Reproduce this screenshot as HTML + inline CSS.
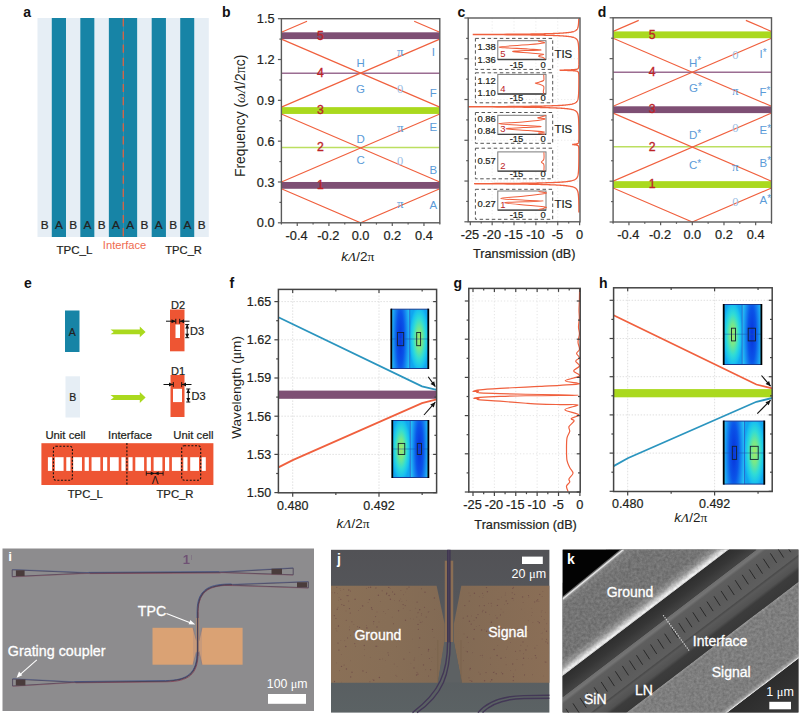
<!DOCTYPE html><html><head><meta charset="utf-8"><style>html,body{margin:0;padding:0;background:#fff;width:800px;height:715px;overflow:hidden}svg{display:block}</style></head><body>
<svg width="800" height="715" viewBox="0 0 800 715" style="font-family:'Liberation Sans',sans-serif" font-family="Liberation Sans">
<defs>
<radialGradient id="gHigh" cx="0.5" cy="0.5" r="0.5" gradientTransform="translate(0.5,0.5) scale(1.05,1.15) translate(-0.5,-0.5)"><stop offset="0" stop-color="#a4e864"/><stop offset="0.3" stop-color="#74e88c"/><stop offset="0.6" stop-color="#30dcd6"/><stop offset="0.85" stop-color="#18c0f0"/><stop offset="1" stop-color="#10a6f0"/></radialGradient>
<radialGradient id="gLow" cx="0.5" cy="0.5" r="0.5" gradientTransform="translate(0.5,0.5) scale(1.0,2.2) translate(-0.5,-0.5)"><stop offset="0" stop-color="#0834dc"/><stop offset="0.4" stop-color="#0a54e8"/><stop offset="0.75" stop-color="#1896f2"/><stop offset="1" stop-color="#26c2f2"/></radialGradient>
<filter id="speck" x="0" y="0" width="1" height="1"><feTurbulence type="fractalNoise" baseFrequency="0.9" numOctaves="1" seed="3" result="n"/><feColorMatrix in="n" type="matrix" values="0 0 0 0 0.3  0 0 0 0 0.2  0 0 0 0 0.15  0 0 0 -3 1.6" result="m"/><feComposite in="m" in2="SourceGraphic" operator="in" result="c"/><feMerge><feMergeNode in="SourceGraphic"/><feMergeNode in="c"/></feMerge></filter>
<filter id="semnoise" x="0" y="0" width="1" height="1" color-interpolation-filters="sRGB"><feTurbulence type="fractalNoise" baseFrequency="0.35" numOctaves="3" seed="5" result="n"/><feColorMatrix in="n" type="matrix" values="1 0 0 0 0  1 0 0 0 0  1 0 0 0 0  0 0 0 0 1" result="g"/><feComposite in="SourceGraphic" in2="g" operator="arithmetic" k1="0" k2="1" k3="0.16" k4="-0.08" result="c"/><feComposite in="c" in2="SourceGraphic" operator="in"/></filter>
</defs>
<rect x="0.00" y="0.00" width="800.00" height="715.00" fill="#fff" />
<text x="23.30" y="16.80" font-size="14" fill="#111" text-anchor="start" font-weight="bold" font-style="normal" >a</text>
<rect x="37.50" y="18.00" width="14.32" height="219.00" fill="#e6eef5" />
<rect x="51.77" y="18.00" width="14.32" height="219.00" fill="#1784a6" />
<rect x="66.04" y="18.00" width="14.32" height="219.00" fill="#e6eef5" />
<rect x="80.31" y="18.00" width="14.32" height="219.00" fill="#1784a6" />
<rect x="94.58" y="18.00" width="14.32" height="219.00" fill="#e6eef5" />
<rect x="108.85" y="18.00" width="14.32" height="219.00" fill="#1784a6" />
<rect x="123.12" y="18.00" width="14.32" height="219.00" fill="#1784a6" />
<rect x="137.40" y="18.00" width="14.32" height="219.00" fill="#e6eef5" />
<rect x="151.67" y="18.00" width="14.32" height="219.00" fill="#1784a6" />
<rect x="165.94" y="18.00" width="14.32" height="219.00" fill="#e6eef5" />
<rect x="180.21" y="18.00" width="14.32" height="219.00" fill="#1784a6" />
<rect x="194.48" y="18.00" width="14.32" height="219.00" fill="#e6eef5" />
<text x="44.64" y="228.90" font-size="11.8" fill="#231f20" text-anchor="middle" font-weight="normal" font-style="normal"  stroke="#231f20" stroke-width="0.22">B</text>
<text x="58.91" y="228.90" font-size="11.8" fill="#231f20" text-anchor="middle" font-weight="normal" font-style="normal"  stroke="#231f20" stroke-width="0.22">A</text>
<text x="73.18" y="228.90" font-size="11.8" fill="#231f20" text-anchor="middle" font-weight="normal" font-style="normal"  stroke="#231f20" stroke-width="0.22">B</text>
<text x="87.45" y="228.90" font-size="11.8" fill="#231f20" text-anchor="middle" font-weight="normal" font-style="normal"  stroke="#231f20" stroke-width="0.22">A</text>
<text x="101.72" y="228.90" font-size="11.8" fill="#231f20" text-anchor="middle" font-weight="normal" font-style="normal"  stroke="#231f20" stroke-width="0.22">B</text>
<text x="115.99" y="228.90" font-size="11.8" fill="#231f20" text-anchor="middle" font-weight="normal" font-style="normal"  stroke="#231f20" stroke-width="0.22">A</text>
<text x="130.26" y="228.90" font-size="11.8" fill="#231f20" text-anchor="middle" font-weight="normal" font-style="normal"  stroke="#231f20" stroke-width="0.22">A</text>
<text x="144.53" y="228.90" font-size="11.8" fill="#231f20" text-anchor="middle" font-weight="normal" font-style="normal"  stroke="#231f20" stroke-width="0.22">B</text>
<text x="158.80" y="228.90" font-size="11.8" fill="#231f20" text-anchor="middle" font-weight="normal" font-style="normal"  stroke="#231f20" stroke-width="0.22">A</text>
<text x="173.07" y="228.90" font-size="11.8" fill="#231f20" text-anchor="middle" font-weight="normal" font-style="normal"  stroke="#231f20" stroke-width="0.22">B</text>
<text x="187.34" y="228.90" font-size="11.8" fill="#231f20" text-anchor="middle" font-weight="normal" font-style="normal"  stroke="#231f20" stroke-width="0.22">A</text>
<text x="201.61" y="228.90" font-size="11.8" fill="#231f20" text-anchor="middle" font-weight="normal" font-style="normal"  stroke="#231f20" stroke-width="0.22">B</text>
<line x1="123.30" y1="18.40" x2="123.30" y2="237.00" stroke="#d0654a" stroke-width="1.4" stroke-dasharray="8.2,4.9"/>
<text x="74.40" y="253.70" font-size="11.5" fill="#231f20" text-anchor="middle" font-weight="normal" font-style="normal"  stroke="#231f20" stroke-width="0.22">TPC_L</text>
<text x="124.60" y="248.80" font-size="11.2" fill="#ef6a50" text-anchor="middle" font-weight="normal" font-style="normal" >Interface</text>
<text x="183.60" y="253.50" font-size="11.2" fill="#231f20" text-anchor="middle" font-weight="normal" font-style="normal"  stroke="#231f20" stroke-width="0.22">TPC_R</text>
<text x="222.00" y="16.60" font-size="14" fill="#111" text-anchor="start" font-weight="bold" font-style="normal" >b</text>
<clipPath id="clipb"><rect x="281.4" y="18.7" width="158.40000000000003" height="204.10000000000002"/></clipPath>
<g clip-path="url(#clipb)">
<rect x="281.40" y="32.31" width="158.40" height="6.80" fill="#7e4f74" />
<rect x="281.40" y="181.98" width="158.40" height="6.80" fill="#7e4f74" />
<rect x="281.40" y="107.14" width="158.40" height="6.80" fill="#aad91e" />
<line x1="281.40" y1="73.13" x2="439.80" y2="73.13" stroke="#9b6d92" stroke-width="1.5" />
<line x1="281.40" y1="147.56" x2="439.80" y2="147.56" stroke="#bcdf60" stroke-width="1.5" />
<polyline points="281.40,188.78 360.60,222.80 439.80,188.78" fill="none" stroke="#f0603e" stroke-width="1.15"/>
<polyline points="281.40,181.98 439.80,113.95" fill="none" stroke="#f0603e" stroke-width="1.15"/>
<polyline points="439.80,181.98 281.40,113.95" fill="none" stroke="#f0603e" stroke-width="1.15"/>
<polyline points="281.40,107.14 439.80,39.11" fill="none" stroke="#f0603e" stroke-width="1.15"/>
<polyline points="439.80,107.14 281.40,39.11" fill="none" stroke="#f0603e" stroke-width="1.15"/>
<line x1="281.40" y1="32.31" x2="307.03" y2="21.30" stroke="#f0603e" stroke-width="1.15" />
<line x1="439.80" y1="32.31" x2="414.17" y2="21.30" stroke="#f0603e" stroke-width="1.15" />
</g>
<rect x="281.4" y="18.7" width="158.40000000000003" height="204.10000000000002" fill="none" stroke="#5a5a5a" stroke-width="1.4"/>
<line x1="277.90" y1="222.80" x2="281.40" y2="222.80" stroke="#5a5a5a" stroke-width="1.2" />
<line x1="279.40" y1="202.39" x2="281.40" y2="202.39" stroke="#5a5a5a" stroke-width="1.2" />
<line x1="277.90" y1="181.98" x2="281.40" y2="181.98" stroke="#5a5a5a" stroke-width="1.2" />
<line x1="279.40" y1="161.57" x2="281.40" y2="161.57" stroke="#5a5a5a" stroke-width="1.2" />
<line x1="277.90" y1="141.16" x2="281.40" y2="141.16" stroke="#5a5a5a" stroke-width="1.2" />
<line x1="279.40" y1="120.75" x2="281.40" y2="120.75" stroke="#5a5a5a" stroke-width="1.2" />
<line x1="277.90" y1="100.34" x2="281.40" y2="100.34" stroke="#5a5a5a" stroke-width="1.2" />
<line x1="279.40" y1="79.93" x2="281.40" y2="79.93" stroke="#5a5a5a" stroke-width="1.2" />
<line x1="277.90" y1="59.52" x2="281.40" y2="59.52" stroke="#5a5a5a" stroke-width="1.2" />
<line x1="279.40" y1="39.11" x2="281.40" y2="39.11" stroke="#5a5a5a" stroke-width="1.2" />
<line x1="277.90" y1="18.70" x2="281.40" y2="18.70" stroke="#5a5a5a" stroke-width="1.2" />
<line x1="281.40" y1="222.80" x2="281.40" y2="224.60" stroke="#5a5a5a" stroke-width="1.2" />
<line x1="297.24" y1="222.80" x2="297.24" y2="226.10" stroke="#5a5a5a" stroke-width="1.2" />
<line x1="313.08" y1="222.80" x2="313.08" y2="224.60" stroke="#5a5a5a" stroke-width="1.2" />
<line x1="328.92" y1="222.80" x2="328.92" y2="226.10" stroke="#5a5a5a" stroke-width="1.2" />
<line x1="344.76" y1="222.80" x2="344.76" y2="224.60" stroke="#5a5a5a" stroke-width="1.2" />
<line x1="360.60" y1="222.80" x2="360.60" y2="226.10" stroke="#5a5a5a" stroke-width="1.2" />
<line x1="376.44" y1="222.80" x2="376.44" y2="224.60" stroke="#5a5a5a" stroke-width="1.2" />
<line x1="392.28" y1="222.80" x2="392.28" y2="226.10" stroke="#5a5a5a" stroke-width="1.2" />
<line x1="408.12" y1="222.80" x2="408.12" y2="224.60" stroke="#5a5a5a" stroke-width="1.2" />
<line x1="423.96" y1="222.80" x2="423.96" y2="226.10" stroke="#5a5a5a" stroke-width="1.2" />
<line x1="439.80" y1="222.80" x2="439.80" y2="224.60" stroke="#5a5a5a" stroke-width="1.2" />
<text x="296.64" y="239.70" font-size="12.8" fill="#231f20" text-anchor="middle" font-weight="normal" font-style="normal"  stroke="#231f20" stroke-width="0.22">-0.4</text>
<text x="328.32" y="239.70" font-size="12.8" fill="#231f20" text-anchor="middle" font-weight="normal" font-style="normal"  stroke="#231f20" stroke-width="0.22">-0.2</text>
<text x="360.60" y="239.70" font-size="12.8" fill="#231f20" text-anchor="middle" font-weight="normal" font-style="normal"  stroke="#231f20" stroke-width="0.22">0.0</text>
<text x="392.28" y="239.70" font-size="12.8" fill="#231f20" text-anchor="middle" font-weight="normal" font-style="normal"  stroke="#231f20" stroke-width="0.22">0.2</text>
<text x="423.96" y="239.70" font-size="12.8" fill="#231f20" text-anchor="middle" font-weight="normal" font-style="normal"  stroke="#231f20" stroke-width="0.22">0.4</text>
<text x="320.50" y="189.18" font-size="12.2" fill="#bd2428" text-anchor="middle" font-weight="normal" font-style="normal" stroke="#bd2428" stroke-width="0.35">1</text>
<text x="320.50" y="151.36" font-size="12.2" fill="#bd2428" text-anchor="middle" font-weight="normal" font-style="normal" stroke="#bd2428" stroke-width="0.35">2</text>
<text x="320.50" y="114.34" font-size="12.2" fill="#bd2428" text-anchor="middle" font-weight="normal" font-style="normal" stroke="#bd2428" stroke-width="0.35">3</text>
<text x="320.50" y="76.93" font-size="12.2" fill="#bd2428" text-anchor="middle" font-weight="normal" font-style="normal" stroke="#bd2428" stroke-width="0.35">4</text>
<text x="320.50" y="39.51" font-size="12.2" fill="#bd2428" text-anchor="middle" font-weight="normal" font-style="normal" stroke="#bd2428" stroke-width="0.35">5</text>
<text x="360.60" y="66.60" font-size="11.5" fill="#5b9bd8" text-anchor="middle" font-weight="normal" font-style="normal" >H</text>
<text x="360.60" y="92.50" font-size="11.5" fill="#5b9bd8" text-anchor="middle" font-weight="normal" font-style="normal" >G</text>
<text x="360.60" y="143.40" font-size="11.5" fill="#5b9bd8" text-anchor="middle" font-weight="normal" font-style="normal" >D</text>
<text x="360.60" y="164.10" font-size="11.5" fill="#5b9bd8" text-anchor="middle" font-weight="normal" font-style="normal" >C</text>
<text x="433.30" y="56.10" font-size="11.5" fill="#5b9bd8" text-anchor="middle" font-weight="normal" font-style="normal" >I</text>
<text x="433.30" y="96.80" font-size="11.5" fill="#5b9bd8" text-anchor="middle" font-weight="normal" font-style="normal" >F</text>
<text x="433.30" y="130.60" font-size="11.5" fill="#5b9bd8" text-anchor="middle" font-weight="normal" font-style="normal" >E</text>
<text x="433.30" y="173.90" font-size="11.5" fill="#5b9bd8" text-anchor="middle" font-weight="normal" font-style="normal" >B</text>
<text x="433.30" y="208.50" font-size="11.5" fill="#5b9bd8" text-anchor="middle" font-weight="normal" font-style="normal" >A</text>
<text x="400.20" y="55.90" font-size="13" fill="#5b9bd8" text-anchor="middle" font-family="Liberation Serif">π</text>
<text x="400.20" y="92.70" font-size="12.5" fill="#9cc0e4" text-anchor="middle" font-family="Liberation Serif">0</text>
<text x="400.20" y="132.20" font-size="13" fill="#5b9bd8" text-anchor="middle" font-family="Liberation Serif">π</text>
<text x="400.20" y="165.30" font-size="12.5" fill="#9cc0e4" text-anchor="middle" font-family="Liberation Serif">0</text>
<text x="400.20" y="207.60" font-size="13" fill="#5b9bd8" text-anchor="middle" font-family="Liberation Serif">π</text>
<text x="274.60" y="227.40" font-size="12.8" fill="#231f20" text-anchor="end" font-weight="normal" font-style="normal"  stroke="#231f20" stroke-width="0.22">0.0</text>
<text x="274.60" y="186.58" font-size="12.8" fill="#231f20" text-anchor="end" font-weight="normal" font-style="normal"  stroke="#231f20" stroke-width="0.22">0.3</text>
<text x="274.60" y="145.76" font-size="12.8" fill="#231f20" text-anchor="end" font-weight="normal" font-style="normal"  stroke="#231f20" stroke-width="0.22">0.6</text>
<text x="274.60" y="104.94" font-size="12.8" fill="#231f20" text-anchor="end" font-weight="normal" font-style="normal"  stroke="#231f20" stroke-width="0.22">0.9</text>
<text x="274.60" y="64.12" font-size="12.8" fill="#231f20" text-anchor="end" font-weight="normal" font-style="normal"  stroke="#231f20" stroke-width="0.22">1.2</text>
<text x="274.60" y="23.30" font-size="12.8" fill="#231f20" text-anchor="end" font-weight="normal" font-style="normal"  stroke="#231f20" stroke-width="0.22">1.5</text>
<text transform="translate(244.6,115.8) rotate(-90)" font-size="13.9" fill="#231f20" text-anchor="middle">Frequency (<tspan font-family="Liberation Serif" font-style="italic">ωΛ</tspan>/2<tspan font-family="Liberation Serif">π</tspan>c)</text>
<text x="357.80" y="261.30" font-size="13.5" fill="#231f20" text-anchor="middle"><tspan font-style="italic">k</tspan><tspan font-family="Liberation Serif" font-style="italic">Λ</tspan>/2<tspan font-family="Liberation Serif">π</tspan></text>
<text x="457.50" y="16.80" font-size="14" fill="#111" text-anchor="start" font-weight="bold" font-style="normal" >c</text>
<line x1="492.16" y1="18.00" x2="492.16" y2="221.80" stroke="#e6e6e6" stroke-width="0.8" stroke-dasharray="1.2,2"/>
<line x1="514.02" y1="18.00" x2="514.02" y2="221.80" stroke="#e6e6e6" stroke-width="0.8" stroke-dasharray="1.2,2"/>
<line x1="535.88" y1="18.00" x2="535.88" y2="221.80" stroke="#e6e6e6" stroke-width="0.8" stroke-dasharray="1.2,2"/>
<line x1="557.74" y1="18.00" x2="557.74" y2="221.80" stroke="#e6e6e6" stroke-width="0.8" stroke-dasharray="1.2,2"/>
<line x1="468.20" y1="181.04" x2="580.00" y2="181.04" stroke="#e6e6e6" stroke-width="0.8" stroke-dasharray="1.2,2"/>
<line x1="468.20" y1="140.28" x2="580.00" y2="140.28" stroke="#e6e6e6" stroke-width="0.8" stroke-dasharray="1.2,2"/>
<line x1="468.20" y1="99.52" x2="580.00" y2="99.52" stroke="#e6e6e6" stroke-width="0.8" stroke-dasharray="1.2,2"/>
<line x1="468.20" y1="58.76" x2="580.00" y2="58.76" stroke="#e6e6e6" stroke-width="0.8" stroke-dasharray="1.2,2"/>
<rect x="475.4" y="38.4" width="77.3" height="31.00" fill="none" stroke="#555" stroke-width="1" stroke-dasharray="3.5,2.6"/>
<rect x="497.8" y="40.7" width="48.2" height="18.80" fill="#fff" stroke="#7a7a7a" stroke-width="1"/>
<line x1="497.80" y1="59.50" x2="546.00" y2="59.50" stroke="#444" stroke-width="1.3" />
<text x="495.80" y="50.20" font-size="9.4" fill="#231f20" text-anchor="end" font-weight="normal" font-style="normal"  stroke="#231f20" stroke-width="0.22">1.38</text>
<text x="495.80" y="62.90" font-size="9.4" fill="#231f20" text-anchor="end" font-weight="normal" font-style="normal"  stroke="#231f20" stroke-width="0.22">1.36</text>
<text x="516.50" y="67.80" font-size="9.4" fill="#231f20" text-anchor="middle" font-weight="normal" font-style="normal"  stroke="#231f20" stroke-width="0.22">-15</text>
<text x="543.20" y="67.80" font-size="9.4" fill="#231f20" text-anchor="middle" font-weight="normal" font-style="normal"  stroke="#231f20" stroke-width="0.22">0</text>
<text x="503.00" y="57.00" font-size="9.5" fill="#bd2428" text-anchor="middle" font-weight="normal" font-style="normal" >5</text>
<text x="563.30" y="58.00" font-size="11.4" fill="#231f20" text-anchor="middle" font-weight="normal" font-style="normal"  stroke="#231f20" stroke-width="0.22">TIS</text>
<rect x="475.4" y="72.8" width="77.3" height="30.00" fill="none" stroke="#555" stroke-width="1" stroke-dasharray="3.5,2.6"/>
<rect x="497.8" y="74.4" width="48.2" height="19.60" fill="#fff" stroke="#7a7a7a" stroke-width="1"/>
<line x1="497.80" y1="94.00" x2="546.00" y2="94.00" stroke="#444" stroke-width="1.3" />
<text x="495.80" y="83.70" font-size="9.4" fill="#231f20" text-anchor="end" font-weight="normal" font-style="normal"  stroke="#231f20" stroke-width="0.22">1.12</text>
<text x="495.80" y="95.70" font-size="9.4" fill="#231f20" text-anchor="end" font-weight="normal" font-style="normal"  stroke="#231f20" stroke-width="0.22">1.10</text>
<text x="516.50" y="101.20" font-size="9.4" fill="#231f20" text-anchor="middle" font-weight="normal" font-style="normal"  stroke="#231f20" stroke-width="0.22">-15</text>
<text x="543.20" y="101.20" font-size="9.4" fill="#231f20" text-anchor="middle" font-weight="normal" font-style="normal"  stroke="#231f20" stroke-width="0.22">0</text>
<text x="503.00" y="91.50" font-size="9.5" fill="#bd2428" text-anchor="middle" font-weight="normal" font-style="normal" >4</text>
<rect x="475.4" y="112.5" width="77.3" height="30.80" fill="none" stroke="#555" stroke-width="1" stroke-dasharray="3.5,2.6"/>
<rect x="497.8" y="115.3" width="48.2" height="19.10" fill="#fff" stroke="#7a7a7a" stroke-width="1"/>
<line x1="497.80" y1="134.40" x2="546.00" y2="134.40" stroke="#444" stroke-width="1.3" />
<text x="495.80" y="121.60" font-size="9.4" fill="#231f20" text-anchor="end" font-weight="normal" font-style="normal"  stroke="#231f20" stroke-width="0.22">0.86</text>
<text x="495.80" y="133.90" font-size="9.4" fill="#231f20" text-anchor="end" font-weight="normal" font-style="normal"  stroke="#231f20" stroke-width="0.22">0.84</text>
<text x="516.50" y="141.70" font-size="9.4" fill="#231f20" text-anchor="middle" font-weight="normal" font-style="normal"  stroke="#231f20" stroke-width="0.22">-15</text>
<text x="543.20" y="141.70" font-size="9.4" fill="#231f20" text-anchor="middle" font-weight="normal" font-style="normal"  stroke="#231f20" stroke-width="0.22">0</text>
<text x="503.00" y="131.90" font-size="9.5" fill="#bd2428" text-anchor="middle" font-weight="normal" font-style="normal" >3</text>
<text x="563.30" y="132.75" font-size="11.4" fill="#231f20" text-anchor="middle" font-weight="normal" font-style="normal"  stroke="#231f20" stroke-width="0.22">TIS</text>
<rect x="475.4" y="148.2" width="77.3" height="30.60" fill="none" stroke="#555" stroke-width="1" stroke-dasharray="3.5,2.6"/>
<rect x="497.8" y="151.9" width="48.2" height="19.30" fill="#fff" stroke="#7a7a7a" stroke-width="1"/>
<line x1="497.80" y1="171.20" x2="546.00" y2="171.20" stroke="#444" stroke-width="1.3" />
<text x="495.80" y="164.20" font-size="9.4" fill="#231f20" text-anchor="end" font-weight="normal" font-style="normal"  stroke="#231f20" stroke-width="0.22">0.57</text>
<text x="516.50" y="177.20" font-size="9.4" fill="#231f20" text-anchor="middle" font-weight="normal" font-style="normal"  stroke="#231f20" stroke-width="0.22">-15</text>
<text x="543.20" y="177.20" font-size="9.4" fill="#231f20" text-anchor="middle" font-weight="normal" font-style="normal"  stroke="#231f20" stroke-width="0.22">0</text>
<text x="503.00" y="168.70" font-size="9.5" fill="#bd2428" text-anchor="middle" font-weight="normal" font-style="normal" >2</text>
<rect x="475.4" y="189.3" width="77.3" height="30.00" fill="none" stroke="#555" stroke-width="1" stroke-dasharray="3.5,2.6"/>
<rect x="497.8" y="191.0" width="48.2" height="19.10" fill="#fff" stroke="#7a7a7a" stroke-width="1"/>
<line x1="497.80" y1="210.10" x2="546.00" y2="210.10" stroke="#444" stroke-width="1.3" />
<text x="495.80" y="207.40" font-size="9.4" fill="#231f20" text-anchor="end" font-weight="normal" font-style="normal"  stroke="#231f20" stroke-width="0.22">0.27</text>
<text x="516.50" y="217.70" font-size="9.4" fill="#231f20" text-anchor="middle" font-weight="normal" font-style="normal"  stroke="#231f20" stroke-width="0.22">-15</text>
<text x="543.20" y="217.70" font-size="9.4" fill="#231f20" text-anchor="middle" font-weight="normal" font-style="normal"  stroke="#231f20" stroke-width="0.22">0</text>
<text x="503.00" y="207.60" font-size="9.5" fill="#bd2428" text-anchor="middle" font-weight="normal" font-style="normal" >1</text>
<text x="563.30" y="208.45" font-size="11.4" fill="#231f20" text-anchor="middle" font-weight="normal" font-style="normal"  stroke="#231f20" stroke-width="0.22">TIS</text>
<path d="M538.00,41.00 C538.81,41.18 541.49,41.64 542.50,42.00 C543.51,42.36 545.85,42.53 543.60,43.00 C541.35,43.47 537.99,43.86 530.00,44.60 C522.01,45.34 499.56,46.33 499.20,47.10 C498.84,47.87 520.48,48.38 528.00,48.90 C535.52,49.42 541.54,49.69 541.00,50.00 C540.46,50.31 530.09,50.33 525.00,50.60 C519.91,50.87 511.80,51.07 512.70,51.50 C513.60,51.93 524.49,52.51 530.00,53.00 C535.51,53.49 541.59,53.75 543.30,54.20 C545.01,54.65 540.27,55.09 539.50,55.50 C538.73,55.91 538.37,56.12 539.00,56.50 C539.63,56.88 541.92,57.15 543.00,57.60 C544.08,58.05 544.64,58.75 545.00,59.00" fill="none" stroke="#f0603e" stroke-width="1.05" stroke-linejoin="round"/>
<path d="M543.70,74.80 C543.74,75.38 543.94,76.97 543.90,78.00 C543.86,79.03 544.38,79.74 543.50,80.50 C542.62,81.26 540.48,81.71 539.00,82.20 C537.52,82.69 535.21,82.82 535.30,83.20 C535.39,83.58 538.02,83.76 539.50,84.30 C540.98,84.84 542.73,85.35 543.50,86.20 C544.27,87.05 543.84,88.14 543.80,89.00 C543.76,89.86 543.32,90.14 543.30,91.00 C543.28,91.86 543.63,93.30 543.70,93.80" fill="none" stroke="#f0603e" stroke-width="1.05" stroke-linejoin="round"/>
<path d="M546.00,115.60 C544.92,115.91 541.44,116.89 540.00,117.30 C538.56,117.71 537.19,117.56 538.00,117.90 C538.81,118.24 546.84,118.50 544.50,119.20 C542.16,119.90 533.23,120.99 525.00,121.80 C516.77,122.61 498.62,123.02 498.80,123.70 C498.98,124.38 518.40,125.08 526.00,125.60 C533.60,126.12 541.54,126.24 541.00,126.60 C540.46,126.96 529.26,127.20 523.00,127.60 C516.74,128.00 505.30,128.26 506.20,128.80 C507.10,129.34 521.20,130.04 528.00,130.60 C534.80,131.16 542.11,131.43 544.00,131.90 C545.89,132.37 538.32,132.79 538.50,133.20 C538.68,133.61 543.83,134.02 545.00,134.20" fill="none" stroke="#f0603e" stroke-width="1.05" stroke-linejoin="round"/>
<path d="M543.90,152.20 C543.90,153.46 544.35,157.42 543.90,159.20 C543.45,160.98 541.40,161.13 541.40,162.10 C541.40,163.07 543.45,163.00 543.90,164.60 C544.35,166.20 543.90,169.85 543.90,171.00" fill="none" stroke="#f0603e" stroke-width="1.05" stroke-linejoin="round"/>
<path d="M538.50,191.60 C539.58,191.78 543.33,192.26 544.50,192.60 C545.67,192.94 548.51,192.89 545.00,193.50 C541.49,194.11 532.96,195.12 525.00,196.00 C517.04,196.88 500.80,197.64 500.80,198.40 C500.80,199.16 517.33,199.73 525.00,200.20 C532.67,200.67 543.40,200.71 543.40,201.00 C543.40,201.29 531.97,201.48 525.00,201.80 C518.03,202.12 504.34,202.19 504.70,202.80 C505.06,203.41 519.75,204.46 527.00,205.20 C534.25,205.94 541.94,206.36 545.00,206.90 C548.06,207.44 545.17,207.71 544.00,208.20 C542.83,208.69 539.49,209.35 538.50,209.60" fill="none" stroke="#f0603e" stroke-width="1.05" stroke-linejoin="round"/>
<path d="M578.78,18.50 L578.76,19.00 L578.75,19.50 L578.73,20.00 L578.71,20.50 L578.69,21.00 L578.68,21.13 L578.67,21.50 L578.64,22.00 L578.61,22.50 L578.58,23.00 L578.54,23.50 L578.50,24.00 L578.45,24.48 L578.45,24.50 L578.39,25.00 L578.32,25.50 L578.24,26.00 L578.15,26.50 L578.15,26.50 L578.04,27.00 L577.90,27.50 L577.79,27.85 L577.73,28.00 L577.52,28.50 L577.37,28.81 L577.26,29.00 L576.92,29.50 L576.89,29.54 L576.46,30.00 L576.35,30.11 L575.84,30.50 L575.75,30.56 L575.11,30.94 L574.98,31.00 L574.41,31.25 L573.72,31.50 L573.67,31.52 L572.88,31.75 L572.05,31.95 L571.80,32.00 L571.17,32.12 L570.26,32.28 L569.31,32.42 L568.71,32.50 L568.32,32.55 L567.30,32.66 L566.24,32.77 L565.16,32.86 L564.03,32.95 L563.39,33.00 L562.88,33.03 L561.71,33.11 L560.50,33.18 L559.25,33.25 L557.97,33.31 L556.66,33.37 L555.32,33.43 L553.94,33.48 L553.39,33.50 L552.51,33.53 L551.06,33.58 L549.60,33.62 L548.06,33.67 L546.45,33.71 L544.85,33.75 L543.17,33.79 L541.43,33.83 L539.66,33.86 L537.76,33.90 L535.85,33.93 L533.86,33.97 L531.73,34.00 L529.59,34.03 L527.30,34.06 L524.83,34.09 L522.35,34.12 L519.68,34.15 L516.80,34.18 L513.79,34.21 L510.53,34.24 L507.12,34.26 L503.42,34.29 L499.40,34.32 L495.06,34.34 L490.58,34.37 L485.90,34.40 L481.23,34.42 L476.99,34.45 L473.90,34.47 L472.74,34.50 L473.90,34.53 L476.99,34.55 L481.23,34.58 L485.90,34.60 L490.58,34.63 L495.06,34.66 L499.40,34.68 L503.42,34.71 L507.12,34.74 L510.53,34.76 L513.79,34.79 L516.79,34.82 L519.68,34.85 L522.35,34.88 L524.83,34.91 L527.30,34.94 L529.59,34.97 L531.73,35.00 L533.86,35.03 L535.85,35.07 L537.76,35.10 L539.66,35.14 L541.43,35.17 L543.17,35.21 L544.85,35.25 L546.45,35.29 L548.06,35.33 L549.60,35.38 L551.06,35.42 L552.51,35.47 L553.39,35.50 L553.94,35.52 L555.32,35.57 L556.66,35.63 L557.97,35.69 L559.25,35.75 L560.50,35.82 L561.71,35.89 L562.88,35.97 L563.39,36.00 L564.03,36.05 L565.15,36.14 L566.24,36.23 L567.30,36.34 L568.32,36.45 L568.71,36.50 L569.31,36.58 L570.25,36.72 L571.17,36.88 L571.80,37.00 L572.04,37.05 L572.87,37.25 L573.66,37.48 L573.72,37.50 L574.41,37.75 L574.98,38.00 L575.10,38.06 L575.75,38.44 L575.84,38.50 L576.34,38.89 L576.46,39.00 L576.88,39.46 L576.91,39.50 L577.25,40.00 L577.36,40.19 L577.52,40.50 L577.73,41.00 L577.78,41.15 L577.89,41.50 L578.03,42.00 L578.14,42.50 L578.14,42.50 L578.24,43.00 L578.31,43.50 L578.38,44.00 L578.44,44.50 L578.44,44.52 L578.49,45.00 L578.53,45.50 L578.57,46.00 L578.60,46.50 L578.63,47.00 L578.65,47.50 L578.67,47.87 L578.68,48.00 L578.70,48.50 L578.71,49.00 L578.73,49.50 L578.74,50.00 L578.76,50.50 L578.77,51.00 L578.78,51.50 L578.79,52.00 L578.80,52.50 L578.81,53.00 L578.81,53.50 L578.82,54.00 L578.83,54.50 L578.83,54.56 L578.83,55.00 L578.84,55.50 L578.84,56.00 L578.85,56.50 L578.85,57.00 L578.85,57.50 L578.85,58.00 L578.86,58.50 L578.86,59.00 L578.86,59.50 L578.86,60.00 L578.86,60.50 L578.86,61.00 L578.86,61.50 L578.86,62.00 L578.85,62.50 L578.85,63.00 L578.84,63.50 L578.84,64.00 L578.83,64.50 L578.82,64.89 L578.81,65.00 L578.79,65.50 L578.77,66.00 L578.73,66.50 L578.71,66.66 L578.67,67.00 L578.58,67.50 L578.57,67.55 L578.42,68.00 L578.38,68.08 L578.16,68.44 L578.11,68.50 L577.90,68.69 L577.61,68.89 L577.37,69.00 L577.28,69.04 L576.93,69.16 L576.55,69.26 L576.15,69.34 L575.73,69.41 L575.29,69.47 L575.05,69.50 L574.83,69.52 L574.36,69.57 L573.88,69.61 L573.39,69.65 L572.91,69.68 L572.40,69.71 L571.91,69.74 L571.41,69.77 L570.92,69.79 L570.42,69.81 L569.93,69.83 L569.44,69.85 L568.96,69.87 L568.47,69.89 L568.03,69.90 L567.57,69.92 L567.13,69.93 L566.71,69.94 L566.28,69.96 L565.88,69.97 L565.47,69.98 L565.09,69.99 L564.78,70.00 L564.71,70.00 L564.36,70.01 L564.02,70.02 L563.68,70.03 L563.37,70.04 L563.07,70.05 L562.78,70.06 L562.49,70.07 L562.25,70.08 L562.01,70.08 L561.78,70.09 L561.56,70.10 L561.35,70.11 L561.18,70.11 L561.00,70.12 L560.85,70.13 L560.71,70.14 L560.57,70.14 L560.46,70.15 L560.37,70.16 L560.29,70.17 L560.22,70.17 L560.18,70.18 L560.14,70.19 L560.11,70.19 L560.11,70.20 L560.11,70.21 L560.14,70.21 L560.18,70.22 L560.22,70.23 L560.29,70.23 L560.37,70.24 L560.46,70.25 L560.57,70.25 L560.71,70.26 L560.85,70.27 L561.00,70.28 L561.18,70.28 L561.35,70.29 L561.56,70.30 L561.78,70.31 L562.01,70.32 L562.25,70.32 L562.49,70.33 L562.78,70.34 L563.07,70.35 L563.37,70.36 L563.68,70.37 L564.02,70.38 L564.36,70.39 L564.71,70.40 L565.09,70.41 L565.47,70.42 L565.88,70.43 L566.28,70.44 L566.71,70.46 L567.13,70.47 L567.57,70.48 L568.03,70.50 L568.06,70.50 L568.47,70.51 L568.96,70.53 L569.44,70.55 L569.93,70.57 L570.42,70.59 L570.92,70.61 L571.40,70.63 L571.91,70.66 L572.40,70.69 L572.91,70.72 L573.39,70.75 L573.88,70.79 L574.36,70.83 L574.83,70.88 L575.29,70.93 L575.73,70.99 L575.80,71.00 L576.15,71.06 L576.55,71.14 L576.93,71.24 L577.28,71.36 L577.58,71.50 L577.61,71.51 L577.90,71.70 L578.16,71.96 L578.19,72.00 L578.38,72.32 L578.46,72.50 L578.57,72.85 L578.60,73.00 L578.68,73.50 L578.71,73.74 L578.74,74.00 L578.77,74.50 L578.80,75.00 L578.81,75.50 L578.81,75.51 L578.83,76.00 L578.83,76.50 L578.84,77.00 L578.85,77.50 L578.85,78.00 L578.85,78.50 L578.85,79.00 L578.86,79.50 L578.86,80.00 L578.86,80.50 L578.85,81.00 L578.85,81.50 L578.85,82.00 L578.85,82.50 L578.85,83.00 L578.84,83.50 L578.84,84.00 L578.84,84.50 L578.83,85.00 L578.83,85.50 L578.83,85.56 L578.82,86.00 L578.81,86.50 L578.81,87.00 L578.80,87.50 L578.79,88.00 L578.78,88.50 L578.77,89.00 L578.76,89.50 L578.75,90.00 L578.74,90.50 L578.72,91.00 L578.71,91.50 L578.69,92.00 L578.67,92.50 L578.67,92.64 L578.65,93.00 L578.63,93.50 L578.60,94.00 L578.57,94.50 L578.54,95.00 L578.50,95.50 L578.45,96.00 L578.43,96.19 L578.40,96.50 L578.34,97.00 L578.28,97.50 L578.20,98.00 L578.14,98.33 L578.10,98.50 L577.99,99.00 L577.85,99.50 L577.77,99.76 L577.69,100.00 L577.49,100.50 L577.35,100.78 L577.23,101.00 L576.91,101.50 L576.87,101.55 L576.48,102.00 L576.33,102.15 L575.91,102.50 L575.74,102.63 L575.14,103.00 L575.09,103.03 L574.39,103.36 L574.04,103.50 L573.65,103.64 L572.85,103.89 L572.42,104.00 L572.02,104.10 L571.15,104.28 L570.23,104.45 L569.93,104.50 L569.28,104.60 L568.29,104.73 L567.26,104.86 L566.20,104.97 L565.85,105.00 L565.11,105.07 L563.98,105.16 L562.83,105.25 L561.65,105.33 L560.43,105.41 L559.17,105.48 L558.72,105.50 L557.89,105.54 L556.57,105.61 L555.22,105.66 L553.84,105.72 L552.40,105.77 L550.97,105.82 L549.45,105.87 L547.92,105.92 L546.32,105.96 L544.95,106.00 L544.67,106.01 L542.99,106.05 L541.23,106.09 L539.40,106.13 L537.53,106.16 L535.54,106.20 L533.51,106.24 L531.40,106.27 L529.13,106.30 L526.76,106.34 L524.28,106.37 L521.69,106.40 L518.89,106.43 L515.95,106.46 L512.75,106.49 L511.73,106.50 L509.36,106.52 L505.65,106.55 L501.55,106.58 L497.17,106.61 L492.12,106.64 L486.88,106.66 L480.89,106.69 L474.43,106.72 L468.70,106.75 L468.70,106.77 L468.70,106.80 L468.70,106.83 L468.70,106.86 L474.43,106.88 L480.89,106.91 L486.88,106.94 L492.12,106.97 L497.17,106.99 L498.15,107.00 L501.55,107.02 L505.65,107.05 L509.36,107.08 L512.75,107.11 L515.95,107.14 L518.89,107.17 L521.69,107.20 L524.28,107.23 L526.76,107.26 L529.13,107.30 L531.40,107.33 L533.51,107.36 L535.54,107.40 L537.53,107.44 L539.40,107.47 L540.68,107.50 L541.23,107.51 L542.99,107.55 L544.67,107.59 L546.32,107.64 L547.92,107.68 L549.45,107.73 L550.97,107.78 L552.40,107.83 L553.84,107.88 L555.22,107.94 L556.57,108.00 L556.68,108.00 L557.89,108.06 L559.17,108.12 L560.43,108.19 L561.65,108.27 L562.83,108.35 L563.98,108.44 L564.74,108.50 L565.11,108.53 L566.20,108.63 L567.26,108.75 L568.29,108.87 L569.27,109.00 L569.28,109.00 L570.23,109.15 L571.15,109.32 L572.01,109.50 L572.02,109.50 L572.85,109.72 L573.65,109.96 L573.77,110.00 L574.39,110.24 L574.95,110.50 L575.09,110.57 L575.74,110.97 L575.78,111.00 L576.33,111.45 L576.38,111.50 L576.83,112.00 L576.87,112.05 L577.17,112.50 L577.35,112.82 L577.44,113.00 L577.65,113.50 L577.77,113.84 L577.82,114.00 L577.96,114.50 L578.08,115.00 L578.14,115.27 L578.18,115.50 L578.26,116.00 L578.33,116.50 L578.39,117.00 L578.43,117.41 L578.44,117.50 L578.49,118.00 L578.53,118.50 L578.56,119.00 L578.59,119.50 L578.62,120.00 L578.65,120.50 L578.67,120.96 L578.67,121.00 L578.69,121.50 L578.71,122.00 L578.72,122.50 L578.74,123.00 L578.75,123.50 L578.76,124.00 L578.77,124.50 L578.78,125.00 L578.79,125.50 L578.80,126.00 L578.81,126.50 L578.82,127.00 L578.82,127.50 L578.83,128.00 L578.83,128.04 L578.83,128.50 L578.84,129.00 L578.84,129.50 L578.85,130.00 L578.85,130.50 L578.85,131.00 L578.86,131.50 L578.86,132.00 L578.86,132.50 L578.87,133.00 L578.87,133.50 L578.87,134.00 L578.87,134.50 L578.87,135.00 L578.87,135.50 L578.87,136.00 L578.87,136.50 L578.87,137.00 L578.87,137.50 L578.86,138.00 L578.86,138.50 L578.86,138.60 L578.85,139.00 L578.85,139.50 L578.84,140.00 L578.82,140.50 L578.82,140.57 L578.80,141.00 L578.76,141.50 L578.75,141.55 L578.70,142.00 L578.67,142.15 L578.59,142.50 L578.58,142.54 L578.47,142.83 L578.37,143.00 L578.34,143.04 L578.21,143.21 L578.06,143.34 L577.91,143.45 L577.83,143.50 L577.74,143.54 L577.57,143.62 L577.40,143.69 L577.22,143.75 L577.04,143.80 L576.86,143.85 L576.68,143.89 L576.50,143.93 L576.32,143.96 L576.15,143.99 L576.09,144.00 L575.97,144.02 L575.80,144.04 L575.64,144.07 L575.47,144.09 L575.32,144.11 L575.16,144.13 L575.01,144.15 L574.87,144.17 L574.74,144.18 L574.60,144.20 L574.48,144.22 L574.35,144.23 L574.24,144.24 L574.13,144.25 L574.02,144.27 L573.92,144.28 L573.83,144.29 L573.74,144.30 L573.65,144.31 L573.57,144.32 L573.49,144.33 L573.42,144.34 L573.35,144.35 L573.29,144.36 L573.23,144.37 L573.17,144.38 L573.12,144.39 L573.07,144.40 L573.03,144.41 L572.99,144.41 L572.95,144.42 L572.92,144.43 L572.89,144.44 L572.87,144.45 L572.84,144.45 L572.82,144.46 L572.81,144.47 L572.80,144.48 L572.79,144.49 L572.78,144.49 L572.78,144.50 L572.78,144.51 L572.79,144.51 L572.80,144.52 L572.81,144.53 L572.82,144.54 L572.84,144.55 L572.87,144.55 L572.89,144.56 L572.92,144.57 L572.95,144.58 L572.99,144.59 L573.03,144.59 L573.07,144.60 L573.12,144.61 L573.17,144.62 L573.23,144.63 L573.29,144.64 L573.35,144.65 L573.42,144.66 L573.49,144.67 L573.57,144.68 L573.65,144.69 L573.74,144.70 L573.83,144.71 L573.92,144.72 L574.02,144.73 L574.13,144.75 L574.24,144.76 L574.35,144.77 L574.48,144.78 L574.60,144.80 L574.74,144.82 L574.87,144.83 L575.01,144.85 L575.16,144.87 L575.32,144.89 L575.47,144.91 L575.64,144.93 L575.80,144.96 L575.97,144.98 L576.09,145.00 L576.15,145.01 L576.32,145.04 L576.50,145.07 L576.68,145.11 L576.86,145.15 L577.04,145.20 L577.22,145.25 L577.40,145.31 L577.57,145.38 L577.74,145.46 L577.83,145.50 L577.91,145.55 L578.06,145.66 L578.21,145.79 L578.34,145.96 L578.37,146.00 L578.47,146.17 L578.58,146.46 L578.59,146.50 L578.67,146.85 L578.70,147.00 L578.75,147.45 L578.76,147.50 L578.80,148.00 L578.82,148.43 L578.82,148.50 L578.83,149.00 L578.85,149.50 L578.85,150.00 L578.86,150.40 L578.86,150.50 L578.86,151.00 L578.87,151.50 L578.87,152.00 L578.87,152.50 L578.87,153.00 L578.87,153.50 L578.87,154.00 L578.87,154.50 L578.87,155.00 L578.86,155.50 L578.86,156.00 L578.86,156.50 L578.86,157.00 L578.85,157.50 L578.85,158.00 L578.85,158.50 L578.84,159.00 L578.84,159.50 L578.83,160.00 L578.83,160.10 L578.83,160.50 L578.82,161.00 L578.82,161.50 L578.81,162.00 L578.80,162.50 L578.80,163.00 L578.79,163.50 L578.78,164.00 L578.77,164.50 L578.76,165.00 L578.75,165.50 L578.74,166.00 L578.72,166.50 L578.71,167.00 L578.69,167.50 L578.67,167.97 L578.67,168.00 L578.65,168.50 L578.63,169.00 L578.61,169.50 L578.58,170.00 L578.55,170.50 L578.52,171.00 L578.48,171.50 L578.44,171.91 L578.44,172.00 L578.39,172.50 L578.33,173.00 L578.27,173.50 L578.19,174.00 L578.15,174.29 L578.11,174.50 L578.01,175.00 L577.89,175.50 L577.79,175.87 L577.75,176.00 L577.58,176.50 L577.37,177.00 L577.37,177.01 L577.11,177.50 L576.88,177.86 L576.79,178.00 L576.38,178.50 L576.35,178.53 L575.84,179.00 L575.75,179.07 L575.12,179.50 L575.11,179.51 L574.41,179.88 L574.14,180.00 L573.67,180.19 L572.88,180.46 L572.75,180.50 L572.05,180.70 L571.18,180.90 L570.72,181.00 L570.26,181.09 L569.31,181.25 L568.33,181.40 L567.61,181.50 L567.31,181.54 L566.25,181.66 L565.17,181.78 L564.04,181.88 L562.90,181.98 L562.59,182.00 L561.71,182.07 L560.50,182.15 L559.25,182.23 L557.99,182.30 L556.67,182.37 L555.33,182.44 L553.96,182.50 L552.55,182.56 L551.09,182.62 L549.60,182.67 L548.06,182.72 L546.50,182.77 L544.87,182.82 L543.19,182.87 L541.48,182.91 L539.68,182.95 L537.81,182.99 L537.53,183.00 L535.90,183.03 L533.91,183.07 L531.84,183.11 L529.61,183.15 L527.35,183.19 L524.93,183.22 L522.39,183.26 L519.74,183.29 L516.89,183.32 L513.89,183.36 L510.75,183.39 L507.25,183.42 L503.68,183.45 L499.69,183.49 L497.72,183.50 L495.54,183.52 L491.12,183.55 L486.52,183.58 L481.97,183.61 L478.03,183.64 L475.10,183.67 L474.06,183.70 L475.10,183.73 L478.03,183.76 L481.97,183.79 L486.52,183.82 L491.12,183.85 L495.54,183.88 L499.70,183.91 L503.68,183.95 L507.25,183.98 L509.61,184.00 L510.75,184.01 L513.89,184.04 L516.89,184.08 L519.74,184.11 L522.39,184.14 L524.93,184.18 L527.35,184.22 L529.61,184.25 L531.84,184.29 L533.91,184.33 L535.90,184.37 L537.81,184.41 L539.69,184.45 L541.48,184.49 L541.84,184.50 L543.19,184.53 L544.87,184.58 L546.51,184.63 L548.06,184.68 L549.60,184.73 L551.09,184.78 L552.55,184.84 L553.96,184.90 L555.33,184.96 L556.11,185.00 L556.67,185.03 L557.99,185.10 L559.25,185.17 L560.50,185.25 L561.72,185.33 L562.90,185.42 L563.81,185.50 L564.04,185.52 L565.17,185.62 L566.25,185.74 L567.31,185.86 L568.33,186.00 L568.35,186.00 L569.32,186.15 L570.27,186.31 L571.18,186.50 L571.20,186.50 L572.05,186.70 L572.88,186.94 L573.07,187.00 L573.67,187.21 L574.37,187.50 L574.41,187.52 L575.11,187.89 L575.29,188.00 L575.76,188.33 L575.96,188.50 L576.35,188.87 L576.47,189.00 L576.86,189.50 L576.89,189.54 L577.17,190.00 L577.37,190.39 L577.42,190.50 L577.62,191.00 L577.78,191.50 L577.79,191.53 L577.92,192.00 L578.04,192.50 L578.13,193.00 L578.15,193.11 L578.22,193.50 L578.29,194.00 L578.35,194.50 L578.41,195.00 L578.45,195.49 L578.45,195.50 L578.50,196.00 L578.53,196.50 L578.57,197.00 L578.60,197.50 L578.62,198.00 L578.65,198.50 L578.67,199.00 L578.69,199.43 L578.69,199.50 L578.71,200.00 L578.72,200.50 L578.74,201.00 L578.75,201.50 L578.77,202.00 L578.78,202.50 L578.79,203.00 L578.80,203.50 L578.81,204.00 L578.82,204.50 L578.83,205.00 L578.83,205.50 L578.84,206.00 L578.85,206.50 L578.85,207.00 L578.86,207.30 L578.86,207.50 L578.86,208.00 L578.87,208.50 L578.87,209.00 L578.88,209.50 L578.88,210.00 L578.89,210.50 L578.89,211.00 L578.89,211.50 L578.90,212.00 L578.90,212.50" fill="none" stroke="#f0603e" stroke-width="1.3"/>
<rect x="468.2" y="18.0" width="111.80000000000001" height="203.8" fill="none" stroke="#5a5a5a" stroke-width="1.4"/>
<line x1="464.40" y1="221.80" x2="468.20" y2="221.80" stroke="#5a5a5a" stroke-width="1.2" />
<line x1="466.20" y1="201.42" x2="468.20" y2="201.42" stroke="#5a5a5a" stroke-width="1.2" />
<line x1="464.40" y1="181.04" x2="468.20" y2="181.04" stroke="#5a5a5a" stroke-width="1.2" />
<line x1="466.20" y1="160.66" x2="468.20" y2="160.66" stroke="#5a5a5a" stroke-width="1.2" />
<line x1="464.40" y1="140.28" x2="468.20" y2="140.28" stroke="#5a5a5a" stroke-width="1.2" />
<line x1="466.20" y1="119.90" x2="468.20" y2="119.90" stroke="#5a5a5a" stroke-width="1.2" />
<line x1="464.40" y1="99.52" x2="468.20" y2="99.52" stroke="#5a5a5a" stroke-width="1.2" />
<line x1="466.20" y1="79.14" x2="468.20" y2="79.14" stroke="#5a5a5a" stroke-width="1.2" />
<line x1="464.40" y1="58.76" x2="468.20" y2="58.76" stroke="#5a5a5a" stroke-width="1.2" />
<line x1="466.20" y1="38.38" x2="468.20" y2="38.38" stroke="#5a5a5a" stroke-width="1.2" />
<line x1="464.40" y1="18.00" x2="468.20" y2="18.00" stroke="#5a5a5a" stroke-width="1.2" />
<line x1="470.30" y1="221.80" x2="470.30" y2="225.30" stroke="#5a5a5a" stroke-width="1.2" />
<line x1="481.23" y1="221.80" x2="481.23" y2="223.60" stroke="#5a5a5a" stroke-width="1.2" />
<line x1="492.16" y1="221.80" x2="492.16" y2="225.30" stroke="#5a5a5a" stroke-width="1.2" />
<line x1="503.09" y1="221.80" x2="503.09" y2="223.60" stroke="#5a5a5a" stroke-width="1.2" />
<line x1="514.02" y1="221.80" x2="514.02" y2="225.30" stroke="#5a5a5a" stroke-width="1.2" />
<line x1="524.95" y1="221.80" x2="524.95" y2="223.60" stroke="#5a5a5a" stroke-width="1.2" />
<line x1="535.88" y1="221.80" x2="535.88" y2="225.30" stroke="#5a5a5a" stroke-width="1.2" />
<line x1="546.81" y1="221.80" x2="546.81" y2="223.60" stroke="#5a5a5a" stroke-width="1.2" />
<line x1="557.74" y1="221.80" x2="557.74" y2="225.30" stroke="#5a5a5a" stroke-width="1.2" />
<line x1="568.67" y1="221.80" x2="568.67" y2="223.60" stroke="#5a5a5a" stroke-width="1.2" />
<line x1="579.60" y1="221.80" x2="579.60" y2="225.30" stroke="#5a5a5a" stroke-width="1.2" />
<text x="469.90" y="238.60" font-size="12.8" fill="#231f20" text-anchor="middle" font-weight="normal" font-style="normal"  stroke="#231f20" stroke-width="0.22">-25</text>
<text x="491.76" y="238.60" font-size="12.8" fill="#231f20" text-anchor="middle" font-weight="normal" font-style="normal"  stroke="#231f20" stroke-width="0.22">-20</text>
<text x="513.62" y="238.60" font-size="12.8" fill="#231f20" text-anchor="middle" font-weight="normal" font-style="normal"  stroke="#231f20" stroke-width="0.22">-15</text>
<text x="535.48" y="238.60" font-size="12.8" fill="#231f20" text-anchor="middle" font-weight="normal" font-style="normal"  stroke="#231f20" stroke-width="0.22">-10</text>
<text x="557.34" y="238.60" font-size="12.8" fill="#231f20" text-anchor="middle" font-weight="normal" font-style="normal"  stroke="#231f20" stroke-width="0.22">-5</text>
<text x="579.60" y="238.60" font-size="12.8" fill="#231f20" text-anchor="middle" font-weight="normal" font-style="normal"  stroke="#231f20" stroke-width="0.22">0</text>
<text x="524.30" y="258.20" font-size="12.7" fill="#231f20" text-anchor="middle" font-weight="normal" font-style="normal"  stroke="#231f20" stroke-width="0.22">Transmission (dB)</text>
<text x="597.80" y="16.60" font-size="14" fill="#111" text-anchor="start" font-weight="bold" font-style="normal" >d</text>
<clipPath id="clipd"><rect x="613.1" y="17.8" width="158.39999999999998" height="204.2"/></clipPath>
<g clip-path="url(#clipd)">
<rect x="613.10" y="31.41" width="158.40" height="6.81" fill="#aad91e" />
<rect x="613.10" y="181.16" width="158.40" height="6.81" fill="#aad91e" />
<rect x="613.10" y="106.29" width="158.40" height="6.81" fill="#7e4f74" />
<line x1="613.10" y1="72.25" x2="771.50" y2="72.25" stroke="#9b6d92" stroke-width="1.5" />
<line x1="613.10" y1="146.72" x2="771.50" y2="146.72" stroke="#bcdf60" stroke-width="1.5" />
<polyline points="613.10,187.97 692.30,222.00 771.50,187.97" fill="none" stroke="#f0603e" stroke-width="1.15"/>
<polyline points="613.10,181.16 771.50,113.09" fill="none" stroke="#f0603e" stroke-width="1.15"/>
<polyline points="771.50,181.16 613.10,113.09" fill="none" stroke="#f0603e" stroke-width="1.15"/>
<polyline points="613.10,106.29 771.50,38.22" fill="none" stroke="#f0603e" stroke-width="1.15"/>
<polyline points="771.50,106.29 613.10,38.22" fill="none" stroke="#f0603e" stroke-width="1.15"/>
<line x1="613.10" y1="31.41" x2="638.73" y2="20.40" stroke="#f0603e" stroke-width="1.15" />
<line x1="771.50" y1="31.41" x2="745.87" y2="20.40" stroke="#f0603e" stroke-width="1.15" />
</g>
<rect x="613.1" y="17.8" width="158.39999999999998" height="204.2" fill="none" stroke="#5a5a5a" stroke-width="1.4"/>
<line x1="609.60" y1="222.00" x2="613.10" y2="222.00" stroke="#5a5a5a" stroke-width="1.2" />
<line x1="611.10" y1="201.58" x2="613.10" y2="201.58" stroke="#5a5a5a" stroke-width="1.2" />
<line x1="609.60" y1="181.16" x2="613.10" y2="181.16" stroke="#5a5a5a" stroke-width="1.2" />
<line x1="611.10" y1="160.74" x2="613.10" y2="160.74" stroke="#5a5a5a" stroke-width="1.2" />
<line x1="609.60" y1="140.32" x2="613.10" y2="140.32" stroke="#5a5a5a" stroke-width="1.2" />
<line x1="611.10" y1="119.90" x2="613.10" y2="119.90" stroke="#5a5a5a" stroke-width="1.2" />
<line x1="609.60" y1="99.48" x2="613.10" y2="99.48" stroke="#5a5a5a" stroke-width="1.2" />
<line x1="611.10" y1="79.06" x2="613.10" y2="79.06" stroke="#5a5a5a" stroke-width="1.2" />
<line x1="609.60" y1="58.64" x2="613.10" y2="58.64" stroke="#5a5a5a" stroke-width="1.2" />
<line x1="611.10" y1="38.22" x2="613.10" y2="38.22" stroke="#5a5a5a" stroke-width="1.2" />
<line x1="609.60" y1="17.80" x2="613.10" y2="17.80" stroke="#5a5a5a" stroke-width="1.2" />
<line x1="613.10" y1="222.00" x2="613.10" y2="223.80" stroke="#5a5a5a" stroke-width="1.2" />
<line x1="628.94" y1="222.00" x2="628.94" y2="225.30" stroke="#5a5a5a" stroke-width="1.2" />
<line x1="644.78" y1="222.00" x2="644.78" y2="223.80" stroke="#5a5a5a" stroke-width="1.2" />
<line x1="660.62" y1="222.00" x2="660.62" y2="225.30" stroke="#5a5a5a" stroke-width="1.2" />
<line x1="676.46" y1="222.00" x2="676.46" y2="223.80" stroke="#5a5a5a" stroke-width="1.2" />
<line x1="692.30" y1="222.00" x2="692.30" y2="225.30" stroke="#5a5a5a" stroke-width="1.2" />
<line x1="708.14" y1="222.00" x2="708.14" y2="223.80" stroke="#5a5a5a" stroke-width="1.2" />
<line x1="723.98" y1="222.00" x2="723.98" y2="225.30" stroke="#5a5a5a" stroke-width="1.2" />
<line x1="739.82" y1="222.00" x2="739.82" y2="223.80" stroke="#5a5a5a" stroke-width="1.2" />
<line x1="755.66" y1="222.00" x2="755.66" y2="225.30" stroke="#5a5a5a" stroke-width="1.2" />
<line x1="771.50" y1="222.00" x2="771.50" y2="223.80" stroke="#5a5a5a" stroke-width="1.2" />
<text x="628.34" y="238.90" font-size="12.8" fill="#231f20" text-anchor="middle" font-weight="normal" font-style="normal"  stroke="#231f20" stroke-width="0.22">-0.4</text>
<text x="660.02" y="238.90" font-size="12.8" fill="#231f20" text-anchor="middle" font-weight="normal" font-style="normal"  stroke="#231f20" stroke-width="0.22">-0.2</text>
<text x="692.30" y="238.90" font-size="12.8" fill="#231f20" text-anchor="middle" font-weight="normal" font-style="normal"  stroke="#231f20" stroke-width="0.22">0.0</text>
<text x="723.98" y="238.90" font-size="12.8" fill="#231f20" text-anchor="middle" font-weight="normal" font-style="normal"  stroke="#231f20" stroke-width="0.22">0.2</text>
<text x="755.66" y="238.90" font-size="12.8" fill="#231f20" text-anchor="middle" font-weight="normal" font-style="normal"  stroke="#231f20" stroke-width="0.22">0.4</text>
<text x="652.20" y="188.36" font-size="12.2" fill="#bd2428" text-anchor="middle" font-weight="normal" font-style="normal" stroke="#bd2428" stroke-width="0.35">1</text>
<text x="652.20" y="150.52" font-size="12.2" fill="#bd2428" text-anchor="middle" font-weight="normal" font-style="normal" stroke="#bd2428" stroke-width="0.35">2</text>
<text x="652.20" y="113.49" font-size="12.2" fill="#bd2428" text-anchor="middle" font-weight="normal" font-style="normal" stroke="#bd2428" stroke-width="0.35">3</text>
<text x="652.20" y="76.05" font-size="12.2" fill="#bd2428" text-anchor="middle" font-weight="normal" font-style="normal" stroke="#bd2428" stroke-width="0.35">4</text>
<text x="652.20" y="38.62" font-size="12.2" fill="#bd2428" text-anchor="middle" font-weight="normal" font-style="normal" stroke="#bd2428" stroke-width="0.35">5</text>
<text x="692.50" y="66.60" font-size="11.5" fill="#5b9bd8" text-anchor="start" transform="translate(-3.5,0)">H<tspan font-size="10" dy="-2.2">*</tspan></text>
<text x="692.50" y="92.10" font-size="11.5" fill="#5b9bd8" text-anchor="start" transform="translate(-3.5,0)">G<tspan font-size="10" dy="-2.2">*</tspan></text>
<text x="692.50" y="139.40" font-size="11.5" fill="#5b9bd8" text-anchor="start" transform="translate(-3.5,0)">D<tspan font-size="10" dy="-2.2">*</tspan></text>
<text x="692.50" y="168.80" font-size="11.5" fill="#5b9bd8" text-anchor="start" transform="translate(-3.5,0)">C<tspan font-size="10" dy="-2.2">*</tspan></text>
<text x="763.00" y="57.90" font-size="11.5" fill="#5b9bd8" text-anchor="start" transform="translate(-3.5,0)">I<tspan font-size="10" dy="-2.2">*</tspan></text>
<text x="763.00" y="95.70" font-size="11.5" fill="#5b9bd8" text-anchor="start" transform="translate(-3.5,0)">F<tspan font-size="10" dy="-2.2">*</tspan></text>
<text x="763.00" y="133.90" font-size="11.5" fill="#5b9bd8" text-anchor="start" transform="translate(-3.5,0)">E<tspan font-size="10" dy="-2.2">*</tspan></text>
<text x="763.00" y="166.60" font-size="11.5" fill="#5b9bd8" text-anchor="start" transform="translate(-3.5,0)">B<tspan font-size="10" dy="-2.2">*</tspan></text>
<text x="763.00" y="204.10" font-size="11.5" fill="#5b9bd8" text-anchor="start" transform="translate(-3.5,0)">A<tspan font-size="10" dy="-2.2">*</tspan></text>
<text x="735.40" y="58.80" font-size="12.5" fill="#9cc0e4" text-anchor="middle" font-family="Liberation Serif">0</text>
<text x="735.40" y="94.80" font-size="13" fill="#5b9bd8" text-anchor="middle" font-family="Liberation Serif">π</text>
<text x="735.40" y="131.60" font-size="12.5" fill="#9cc0e4" text-anchor="middle" font-family="Liberation Serif">0</text>
<text x="735.40" y="171.20" font-size="13" fill="#5b9bd8" text-anchor="middle" font-family="Liberation Serif">π</text>
<text x="735.40" y="206.10" font-size="12.5" fill="#9cc0e4" text-anchor="middle" font-family="Liberation Serif">0</text>
<text x="24.00" y="288.00" font-size="14" fill="#111" text-anchor="start" font-weight="bold" font-style="normal" >e</text>
<rect x="65.00" y="310.50" width="14.50" height="41.50" fill="#1784a6" />
<text x="72.20" y="335.50" font-size="10.5" fill="#231f20" text-anchor="middle" font-weight="normal" font-style="normal"  stroke="#231f20" stroke-width="0.22">A</text>
<rect x="65.50" y="376.30" width="14.50" height="41.20" fill="#e6eef5" />
<text x="72.70" y="400.50" font-size="10.5" fill="#231f20" text-anchor="middle" font-weight="normal" font-style="normal"  stroke="#231f20" stroke-width="0.22">B</text>
<path d="M110.5,329.45 L139.79999999999998,329.45 L139.79999999999998,326.5 L145.6,331.9 L139.79999999999998,337.29999999999995 L139.79999999999998,334.34999999999997 L110.5,334.34999999999997 L113.7,331.9 Z" fill="#aad91e"/>
<path d="M110.5,395.05 L139.79999999999998,395.05 L139.79999999999998,392.1 L145.6,397.5 L139.79999999999998,402.9 L139.79999999999998,399.95 L110.5,399.95 L113.7,397.5 Z" fill="#aad91e"/>
<rect x="170.00" y="309.50" width="14.50" height="41.80" fill="#ee5533" />
<rect x="175.50" y="324.50" width="4.50" height="13.50" fill="#fff" />
<rect x="170.50" y="375.00" width="14.00" height="42.00" fill="#ee5533" />
<rect x="173.00" y="388.80" width="9.00" height="13.30" fill="#fff" />
<text x="178.00" y="309.00" font-size="11" fill="#231f20" text-anchor="middle" font-weight="normal" font-style="normal"  stroke="#231f20" stroke-width="0.22">D2</text>
<text x="178.00" y="374.50" font-size="11" fill="#231f20" text-anchor="middle" font-weight="normal" font-style="normal"  stroke="#231f20" stroke-width="0.22">D1</text>
<path d="M166.0,321.2 L175.5,321.2 M180,321.2 L189.5,321.2" stroke="#111" stroke-width="1.0"/>
<path d="M175.5,321.2 L171.5,319.2 L171.5,323.2 Z M180,321.2 L184,319.2 L184,323.2 Z" fill="#111"/>
<path d="M175.8,318.8 L175.8,323.59999999999997 M179.7,318.8 L179.7,323.59999999999997" stroke="#111" stroke-width="1.0"/>
<path d="M163.5,384.5 L173,384.5 M182,384.5 L191.5,384.5" stroke="#111" stroke-width="1.0"/>
<path d="M173,384.5 L169,382.5 L169,386.5 Z M182,384.5 L186,382.5 L186,386.5 Z" fill="#111"/>
<path d="M173.3,382.1 L173.3,386.9 M181.7,382.1 L181.7,386.9" stroke="#111" stroke-width="1.0"/>
<path d="M187.2,324.6 L187.2,337.7 M185.2,324.6 L189.2,324.6 M185.2,337.7 L189.2,337.7" stroke="#111" stroke-width="1.0"/>
<path d="M187.2,324.6 L185.2,328.6 L189.2,328.6 Z M187.2,337.7 L185.2,333.7 L189.2,333.7 Z" fill="#111"/>
<path d="M188.3,389 L188.3,402 M186.3,389 L190.3,389 M186.3,402 L190.3,402" stroke="#111" stroke-width="1.0"/>
<path d="M188.3,389 L186.3,393 L190.3,393 Z M188.3,402 L186.3,398 L190.3,398 Z" fill="#111"/>
<text x="190.00" y="335.30" font-size="11" fill="#231f20" text-anchor="start" font-weight="normal" font-style="normal"  stroke="#231f20" stroke-width="0.22">D3</text>
<text x="191.50" y="400.30" font-size="11" fill="#231f20" text-anchor="start" font-weight="normal" font-style="normal"  stroke="#231f20" stroke-width="0.22">D3</text>
<rect x="41.40" y="443.20" width="172.00" height="41.80" fill="#ee5533" />
<rect x="47.90" y="457.20" width="4.20" height="13.70" fill="#fff" />
<rect x="54.80" y="457.20" width="8.80" height="13.70" fill="#fff" />
<rect x="66.27" y="457.20" width="4.20" height="13.70" fill="#fff" />
<rect x="73.17" y="457.20" width="8.80" height="13.70" fill="#fff" />
<rect x="84.64" y="457.20" width="4.20" height="13.70" fill="#fff" />
<rect x="91.54" y="457.20" width="8.80" height="13.70" fill="#fff" />
<rect x="103.01" y="457.20" width="4.20" height="13.70" fill="#fff" />
<rect x="109.91" y="457.20" width="8.80" height="13.70" fill="#fff" />
<rect x="121.38" y="457.20" width="4.20" height="13.70" fill="#fff" />
<rect x="128.40" y="457.20" width="4.20" height="13.70" fill="#fff" />
<rect x="135.30" y="457.20" width="8.80" height="13.70" fill="#fff" />
<rect x="146.70" y="457.20" width="4.20" height="13.70" fill="#fff" />
<rect x="153.60" y="457.20" width="8.80" height="13.70" fill="#fff" />
<rect x="165.00" y="457.20" width="4.20" height="13.70" fill="#fff" />
<rect x="171.90" y="457.20" width="8.80" height="13.70" fill="#fff" />
<rect x="183.30" y="457.20" width="4.20" height="13.70" fill="#fff" />
<rect x="190.20" y="457.20" width="8.80" height="13.70" fill="#fff" />
<rect x="201.60" y="457.20" width="4.20" height="13.70" fill="#fff" />
<line x1="126.90" y1="443.00" x2="126.90" y2="485.50" stroke="#111" stroke-width="1.1" stroke-dasharray="2,1.6"/>
<rect x="53.4" y="446.3" width="19" height="34" rx="2.5" fill="none" stroke="#111" stroke-width="1.1" stroke-dasharray="2,1.6"/>
<rect x="181.7" y="445.7" width="19" height="34.5" rx="2.5" fill="none" stroke="#111" stroke-width="1.1" stroke-dasharray="2,1.6"/>
<path d="M146.3,473.4 L163.1,473.4 M146.3,471.2 L146.3,475.6 M163.1,471.2 L163.1,475.6" stroke="#111" stroke-width="0.9"/>
<path d="M154.7,473.4 L150.7,471.6 L150.7,475.2 Z M154.7,473.4 L158.7,471.6 L158.7,475.2 Z" fill="#111"/>
<text x="155" y="484" font-size="10" fill="#111" text-anchor="middle" font-family="Liberation Sans">Λ</text>
<text x="65.50" y="438.60" font-size="11.3" fill="#231f20" text-anchor="middle" font-weight="normal" font-style="normal"  stroke="#231f20" stroke-width="0.22">Unit cell</text>
<text x="130.00" y="438.60" font-size="11.3" fill="#231f20" text-anchor="middle" font-weight="normal" font-style="normal"  stroke="#231f20" stroke-width="0.22">Interface</text>
<text x="193.40" y="438.60" font-size="11.3" fill="#231f20" text-anchor="middle" font-weight="normal" font-style="normal"  stroke="#231f20" stroke-width="0.22">Unit cell</text>
<text x="85.30" y="497.80" font-size="11.3" fill="#231f20" text-anchor="middle" font-weight="normal" font-style="normal"  stroke="#231f20" stroke-width="0.22">TPC_L</text>
<text x="175.00" y="497.80" font-size="11.3" fill="#231f20" text-anchor="middle" font-weight="normal" font-style="normal"  stroke="#231f20" stroke-width="0.22">TPC_R</text>
<text x="229.50" y="287.50" font-size="14" fill="#111" text-anchor="start" font-weight="bold" font-style="normal" >f</text>
<line x1="278.40" y1="339.80" x2="436.60" y2="339.80" stroke="#d8d8d8" stroke-width="0.8" stroke-dasharray="1.5,1.5"/>
<line x1="278.40" y1="378.00" x2="436.60" y2="378.00" stroke="#d8d8d8" stroke-width="0.8" stroke-dasharray="1.5,1.5"/>
<line x1="278.40" y1="416.20" x2="436.60" y2="416.20" stroke="#d8d8d8" stroke-width="0.8" stroke-dasharray="1.5,1.5"/>
<line x1="278.40" y1="454.40" x2="436.60" y2="454.40" stroke="#d8d8d8" stroke-width="0.8" stroke-dasharray="1.5,1.5"/>
<line x1="278.40" y1="301.60" x2="436.60" y2="301.60" stroke="#d8d8d8" stroke-width="0.8" stroke-dasharray="1.5,1.5"/>
<line x1="292.70" y1="289.40" x2="292.70" y2="492.80" stroke="#d8d8d8" stroke-width="0.8" stroke-dasharray="1.5,1.5"/>
<line x1="379.00" y1="289.40" x2="379.00" y2="492.80" stroke="#d8d8d8" stroke-width="0.8" stroke-dasharray="1.5,1.5"/>
<rect x="278.40" y="390.60" width="158.20" height="8.20" fill="#7e4f74" />
<polyline points="278.4,317.25 422,386.4 436.6,389.8" fill="none" stroke="#2b95bf" stroke-width="1.8"/>
<polyline points="278.4,467.4 292.7,460.1 422,403.2 436.6,399.4" fill="none" stroke="#f0603e" stroke-width="1.8"/>
<rect x="390.9" y="309.2" width="18.80" height="59.30" fill="url(#gLow)"/>
<rect x="409.7" y="309.2" width="19.00" height="59.30" fill="url(#gHigh)"/>
<line x1="409.70" y1="309.20" x2="409.70" y2="368.50" stroke="#1a58c8" stroke-width="0.8" />
<line x1="390.90" y1="339.00" x2="428.70" y2="339.00" stroke="#1a58b0" stroke-width="0.7" opacity="0.75"/>
<rect x="397.4" y="332.5" width="6.3" height="13.2" fill="none" stroke="#152030" stroke-width="0.9"/>
<rect x="416.7" y="332.5" width="3.9" height="13.2" fill="none" stroke="#152030" stroke-width="0.9"/>
<line x1="390.90" y1="309.20" x2="428.70" y2="309.20" stroke="#183a90" stroke-width="1.0" />
<line x1="390.90" y1="368.50" x2="428.70" y2="368.50" stroke="#183a90" stroke-width="1.0" />
<line x1="391.30" y1="308.70" x2="391.30" y2="369.00" stroke="#000" stroke-width="1.8" />
<line x1="428.30" y1="308.70" x2="428.30" y2="369.00" stroke="#000" stroke-width="1.8" />
<rect x="391.9" y="420.5" width="18.40" height="57.00" fill="url(#gHigh)"/>
<rect x="410.3" y="420.5" width="18.50" height="57.00" fill="url(#gLow)"/>
<line x1="410.30" y1="420.50" x2="410.30" y2="477.50" stroke="#1a58c8" stroke-width="0.8" />
<line x1="391.90" y1="449.00" x2="428.80" y2="449.00" stroke="#1a58b0" stroke-width="0.7" opacity="0.75"/>
<rect x="398.25" y="443.4" width="6.5" height="11.1" fill="none" stroke="#152030" stroke-width="0.9"/>
<rect x="417.3" y="443.4" width="4.2" height="11.1" fill="none" stroke="#152030" stroke-width="0.9"/>
<line x1="391.90" y1="420.50" x2="428.80" y2="420.50" stroke="#183a90" stroke-width="1.0" />
<line x1="391.90" y1="477.50" x2="428.80" y2="477.50" stroke="#183a90" stroke-width="1.0" />
<line x1="392.30" y1="420.00" x2="392.30" y2="478.00" stroke="#000" stroke-width="1.8" />
<line x1="428.40" y1="420.00" x2="428.40" y2="478.00" stroke="#000" stroke-width="1.8" />
<line x1="428.2" y1="376.8" x2="435.3" y2="386.6" stroke="#111" stroke-width="1.1"/>
<path d="M435.30,386.60 L430.50,383.90 L434.23,381.20 Z" fill="#111"/>
<line x1="424" y1="415" x2="435.3" y2="402.2" stroke="#111" stroke-width="1.1"/>
<path d="M435.30,402.20 L433.72,407.47 L430.27,404.43 Z" fill="#111"/>
<rect x="278.4" y="289.4" width="158.20000000000005" height="203.40000000000003" fill="none" stroke="#444" stroke-width="1.5"/>
<line x1="274.40" y1="492.60" x2="278.40" y2="492.60" stroke="#444" stroke-width="1.2" />
<line x1="433.10" y1="492.60" x2="436.60" y2="492.60" stroke="#444" stroke-width="1.2" />
<text x="271.20" y="497.00" font-size="12.5" fill="#231f20" text-anchor="end" font-weight="normal" font-style="normal"  stroke="#231f20" stroke-width="0.22">1.50</text>
<line x1="276.20" y1="473.50" x2="278.40" y2="473.50" stroke="#444" stroke-width="1.2" />
<line x1="434.40" y1="473.50" x2="436.60" y2="473.50" stroke="#444" stroke-width="1.2" />
<line x1="274.40" y1="454.40" x2="278.40" y2="454.40" stroke="#444" stroke-width="1.2" />
<line x1="433.10" y1="454.40" x2="436.60" y2="454.40" stroke="#444" stroke-width="1.2" />
<text x="271.20" y="458.80" font-size="12.5" fill="#231f20" text-anchor="end" font-weight="normal" font-style="normal"  stroke="#231f20" stroke-width="0.22">1.53</text>
<line x1="276.20" y1="435.30" x2="278.40" y2="435.30" stroke="#444" stroke-width="1.2" />
<line x1="434.40" y1="435.30" x2="436.60" y2="435.30" stroke="#444" stroke-width="1.2" />
<line x1="274.40" y1="416.20" x2="278.40" y2="416.20" stroke="#444" stroke-width="1.2" />
<line x1="433.10" y1="416.20" x2="436.60" y2="416.20" stroke="#444" stroke-width="1.2" />
<text x="271.20" y="420.60" font-size="12.5" fill="#231f20" text-anchor="end" font-weight="normal" font-style="normal"  stroke="#231f20" stroke-width="0.22">1.56</text>
<line x1="276.20" y1="397.10" x2="278.40" y2="397.10" stroke="#444" stroke-width="1.2" />
<line x1="434.40" y1="397.10" x2="436.60" y2="397.10" stroke="#444" stroke-width="1.2" />
<line x1="274.40" y1="378.00" x2="278.40" y2="378.00" stroke="#444" stroke-width="1.2" />
<line x1="433.10" y1="378.00" x2="436.60" y2="378.00" stroke="#444" stroke-width="1.2" />
<text x="271.20" y="382.40" font-size="12.5" fill="#231f20" text-anchor="end" font-weight="normal" font-style="normal"  stroke="#231f20" stroke-width="0.22">1.59</text>
<line x1="276.20" y1="358.90" x2="278.40" y2="358.90" stroke="#444" stroke-width="1.2" />
<line x1="434.40" y1="358.90" x2="436.60" y2="358.90" stroke="#444" stroke-width="1.2" />
<line x1="274.40" y1="339.80" x2="278.40" y2="339.80" stroke="#444" stroke-width="1.2" />
<line x1="433.10" y1="339.80" x2="436.60" y2="339.80" stroke="#444" stroke-width="1.2" />
<text x="271.20" y="344.20" font-size="12.5" fill="#231f20" text-anchor="end" font-weight="normal" font-style="normal"  stroke="#231f20" stroke-width="0.22">1.62</text>
<line x1="276.20" y1="320.70" x2="278.40" y2="320.70" stroke="#444" stroke-width="1.2" />
<line x1="434.40" y1="320.70" x2="436.60" y2="320.70" stroke="#444" stroke-width="1.2" />
<line x1="274.40" y1="301.60" x2="278.40" y2="301.60" stroke="#444" stroke-width="1.2" />
<line x1="433.10" y1="301.60" x2="436.60" y2="301.60" stroke="#444" stroke-width="1.2" />
<text x="271.20" y="306.00" font-size="12.5" fill="#231f20" text-anchor="end" font-weight="normal" font-style="normal"  stroke="#231f20" stroke-width="0.22">1.65</text>
<line x1="292.70" y1="492.80" x2="292.70" y2="496.80" stroke="#444" stroke-width="1.2" />
<line x1="292.70" y1="289.40" x2="292.70" y2="292.90" stroke="#444" stroke-width="1.2" />
<line x1="335.85" y1="492.80" x2="335.85" y2="495.00" stroke="#444" stroke-width="1.2" />
<line x1="335.85" y1="289.40" x2="335.85" y2="291.60" stroke="#444" stroke-width="1.2" />
<line x1="379.00" y1="492.80" x2="379.00" y2="496.80" stroke="#444" stroke-width="1.2" />
<line x1="379.00" y1="289.40" x2="379.00" y2="292.90" stroke="#444" stroke-width="1.2" />
<line x1="422.15" y1="492.80" x2="422.15" y2="495.00" stroke="#444" stroke-width="1.2" />
<line x1="422.15" y1="289.40" x2="422.15" y2="291.60" stroke="#444" stroke-width="1.2" />
<text x="292.70" y="510.00" font-size="12.5" fill="#231f20" text-anchor="middle" font-weight="normal" font-style="normal"  stroke="#231f20" stroke-width="0.22">0.480</text>
<text x="379.00" y="510.00" font-size="12.5" fill="#231f20" text-anchor="middle" font-weight="normal" font-style="normal"  stroke="#231f20" stroke-width="0.22">0.492</text>
<text transform="translate(241.2,387.4) rotate(-90)" font-size="13.6" fill="#231f20" text-anchor="middle">Wavelength (<tspan font-family="Liberation Serif">μ</tspan>m)</text>
<text x="353.00" y="528.00" font-size="13.5" fill="#231f20" text-anchor="middle"><tspan font-style="italic">k</tspan><tspan font-family="Liberation Serif" font-style="italic">Λ</tspan>/2<tspan font-family="Liberation Serif">π</tspan></text>
<text x="453.50" y="287.60" font-size="14" fill="#111" text-anchor="start" font-weight="bold" font-style="normal" >g</text>
<line x1="473.00" y1="288.40" x2="473.00" y2="492.00" stroke="#dedede" stroke-width="0.8" stroke-dasharray="1.2,2"/>
<line x1="494.38" y1="288.40" x2="494.38" y2="492.00" stroke="#dedede" stroke-width="0.8" stroke-dasharray="1.2,2"/>
<line x1="515.76" y1="288.40" x2="515.76" y2="492.00" stroke="#dedede" stroke-width="0.8" stroke-dasharray="1.2,2"/>
<line x1="537.14" y1="288.40" x2="537.14" y2="492.00" stroke="#dedede" stroke-width="0.8" stroke-dasharray="1.2,2"/>
<line x1="558.52" y1="288.40" x2="558.52" y2="492.00" stroke="#dedede" stroke-width="0.8" stroke-dasharray="1.2,2"/>
<line x1="468.80" y1="301.00" x2="580.20" y2="301.00" stroke="#dedede" stroke-width="0.8" stroke-dasharray="1.2,2"/>
<line x1="468.80" y1="339.20" x2="580.20" y2="339.20" stroke="#dedede" stroke-width="0.8" stroke-dasharray="1.2,2"/>
<line x1="468.80" y1="377.40" x2="580.20" y2="377.40" stroke="#dedede" stroke-width="0.8" stroke-dasharray="1.2,2"/>
<line x1="468.80" y1="415.60" x2="580.20" y2="415.60" stroke="#dedede" stroke-width="0.8" stroke-dasharray="1.2,2"/>
<line x1="468.80" y1="453.80" x2="580.20" y2="453.80" stroke="#dedede" stroke-width="0.8" stroke-dasharray="1.2,2"/>
<path d="M579.60,289.00 C579.57,290.76 579.50,296.64 579.40,300.00 C579.30,303.36 579.02,307.12 579.00,310.00 C578.98,312.88 579.38,315.28 579.30,318.00 C579.22,320.72 578.48,324.44 578.50,327.00 C578.52,329.56 579.48,331.60 579.40,334.00 C579.32,336.40 577.98,339.55 578.00,342.00 C578.02,344.45 579.72,347.46 579.50,349.30 C579.28,351.14 576.60,352.16 576.60,353.50 C576.60,354.84 579.64,356.47 579.50,357.70 C579.36,358.93 575.70,359.87 575.70,361.20 C575.70,362.53 579.84,364.43 579.50,366.00 C579.16,367.57 573.60,369.40 573.60,371.00 C573.60,372.60 580.84,374.43 579.50,376.00 C578.16,377.57 565.22,379.55 565.20,380.80 C565.18,382.05 580.23,383.08 579.40,383.80 C578.57,384.52 566.30,384.88 560.00,385.30 C553.70,385.72 545.44,386.11 540.00,386.40 C534.56,386.69 532.40,386.78 526.00,387.10 C519.60,387.42 507.36,387.97 500.00,388.40 C492.64,388.83 484.30,389.32 480.00,389.80 C475.70,390.28 473.36,391.18 473.10,391.40 C472.84,391.62 477.86,391.09 478.40,391.20 C478.94,391.31 476.24,391.84 476.50,392.10 C476.76,392.36 476.24,392.56 480.00,392.80 C483.76,393.04 492.64,393.37 500.00,393.60 C507.36,393.83 516.40,394.06 526.00,394.25 C535.60,394.44 551.58,394.63 560.00,394.80 C568.42,394.97 578.60,395.19 578.60,395.30 C578.60,395.41 568.42,395.43 560.00,395.50 C551.58,395.57 535.60,395.61 526.00,395.75 C516.40,395.89 507.36,396.14 500.00,396.40 C492.64,396.66 484.18,397.08 480.00,397.40 C475.82,397.72 474.09,398.22 473.90,398.40 C473.71,398.58 478.30,398.37 478.80,398.50 C479.30,398.63 476.81,398.99 477.00,399.20 C477.19,399.41 476.32,399.48 480.00,399.80 C483.68,400.12 492.64,400.65 500.00,401.20 C507.36,401.75 519.60,402.79 526.00,403.25 C532.40,403.71 534.56,403.88 540.00,404.10 C545.44,404.32 553.95,404.47 560.00,404.60 C566.05,404.73 577.02,404.08 577.80,404.90 C578.58,405.72 564.77,408.15 564.90,409.70 C565.03,411.25 577.58,413.18 578.60,414.60 C579.62,416.02 572.02,417.58 571.30,418.60 C570.58,419.62 574.47,419.72 574.10,421.00 C573.73,422.28 569.70,424.94 569.00,426.60 C568.30,428.26 570.02,429.59 569.70,431.40 C569.38,433.21 567.51,435.08 567.00,437.90 C566.49,440.72 566.50,445.40 566.50,449.00 C566.50,452.60 566.49,457.42 567.00,460.40 C567.51,463.38 568.74,465.55 569.70,467.60 C570.66,469.65 573.11,471.39 573.00,473.20 C572.89,475.01 569.53,477.48 569.00,478.90 C568.47,480.32 570.10,480.95 569.70,482.10 C569.30,483.25 566.76,484.58 566.50,486.10 C566.24,487.62 567.84,490.72 568.10,491.60" fill="none" stroke="#f0603e" stroke-width="1.2" stroke-linejoin="round"/>
<rect x="468.8" y="288.4" width="111.40000000000003" height="203.60000000000002" fill="none" stroke="#444" stroke-width="1.5"/>
<line x1="464.80" y1="492.00" x2="468.80" y2="492.00" stroke="#444" stroke-width="1.2" />
<line x1="576.70" y1="492.00" x2="580.20" y2="492.00" stroke="#444" stroke-width="1.2" />
<line x1="466.60" y1="472.90" x2="468.80" y2="472.90" stroke="#444" stroke-width="1.2" />
<line x1="578.00" y1="472.90" x2="580.20" y2="472.90" stroke="#444" stroke-width="1.2" />
<line x1="464.80" y1="453.80" x2="468.80" y2="453.80" stroke="#444" stroke-width="1.2" />
<line x1="576.70" y1="453.80" x2="580.20" y2="453.80" stroke="#444" stroke-width="1.2" />
<line x1="466.60" y1="434.70" x2="468.80" y2="434.70" stroke="#444" stroke-width="1.2" />
<line x1="578.00" y1="434.70" x2="580.20" y2="434.70" stroke="#444" stroke-width="1.2" />
<line x1="464.80" y1="415.60" x2="468.80" y2="415.60" stroke="#444" stroke-width="1.2" />
<line x1="576.70" y1="415.60" x2="580.20" y2="415.60" stroke="#444" stroke-width="1.2" />
<line x1="466.60" y1="396.50" x2="468.80" y2="396.50" stroke="#444" stroke-width="1.2" />
<line x1="578.00" y1="396.50" x2="580.20" y2="396.50" stroke="#444" stroke-width="1.2" />
<line x1="464.80" y1="377.40" x2="468.80" y2="377.40" stroke="#444" stroke-width="1.2" />
<line x1="576.70" y1="377.40" x2="580.20" y2="377.40" stroke="#444" stroke-width="1.2" />
<line x1="466.60" y1="358.30" x2="468.80" y2="358.30" stroke="#444" stroke-width="1.2" />
<line x1="578.00" y1="358.30" x2="580.20" y2="358.30" stroke="#444" stroke-width="1.2" />
<line x1="464.80" y1="339.20" x2="468.80" y2="339.20" stroke="#444" stroke-width="1.2" />
<line x1="576.70" y1="339.20" x2="580.20" y2="339.20" stroke="#444" stroke-width="1.2" />
<line x1="466.60" y1="320.10" x2="468.80" y2="320.10" stroke="#444" stroke-width="1.2" />
<line x1="578.00" y1="320.10" x2="580.20" y2="320.10" stroke="#444" stroke-width="1.2" />
<line x1="464.80" y1="301.00" x2="468.80" y2="301.00" stroke="#444" stroke-width="1.2" />
<line x1="576.70" y1="301.00" x2="580.20" y2="301.00" stroke="#444" stroke-width="1.2" />
<line x1="473.00" y1="492.00" x2="473.00" y2="496.00" stroke="#444" stroke-width="1.2" />
<line x1="473.00" y1="288.40" x2="473.00" y2="291.90" stroke="#444" stroke-width="1.2" />
<line x1="483.69" y1="492.00" x2="483.69" y2="494.20" stroke="#444" stroke-width="1.2" />
<line x1="483.69" y1="288.40" x2="483.69" y2="290.60" stroke="#444" stroke-width="1.2" />
<line x1="494.38" y1="492.00" x2="494.38" y2="496.00" stroke="#444" stroke-width="1.2" />
<line x1="494.38" y1="288.40" x2="494.38" y2="291.90" stroke="#444" stroke-width="1.2" />
<line x1="505.07" y1="492.00" x2="505.07" y2="494.20" stroke="#444" stroke-width="1.2" />
<line x1="505.07" y1="288.40" x2="505.07" y2="290.60" stroke="#444" stroke-width="1.2" />
<line x1="515.76" y1="492.00" x2="515.76" y2="496.00" stroke="#444" stroke-width="1.2" />
<line x1="515.76" y1="288.40" x2="515.76" y2="291.90" stroke="#444" stroke-width="1.2" />
<line x1="526.45" y1="492.00" x2="526.45" y2="494.20" stroke="#444" stroke-width="1.2" />
<line x1="526.45" y1="288.40" x2="526.45" y2="290.60" stroke="#444" stroke-width="1.2" />
<line x1="537.14" y1="492.00" x2="537.14" y2="496.00" stroke="#444" stroke-width="1.2" />
<line x1="537.14" y1="288.40" x2="537.14" y2="291.90" stroke="#444" stroke-width="1.2" />
<line x1="547.83" y1="492.00" x2="547.83" y2="494.20" stroke="#444" stroke-width="1.2" />
<line x1="547.83" y1="288.40" x2="547.83" y2="290.60" stroke="#444" stroke-width="1.2" />
<line x1="558.52" y1="492.00" x2="558.52" y2="496.00" stroke="#444" stroke-width="1.2" />
<line x1="558.52" y1="288.40" x2="558.52" y2="291.90" stroke="#444" stroke-width="1.2" />
<line x1="569.21" y1="492.00" x2="569.21" y2="494.20" stroke="#444" stroke-width="1.2" />
<line x1="569.21" y1="288.40" x2="569.21" y2="290.60" stroke="#444" stroke-width="1.2" />
<line x1="579.90" y1="492.00" x2="579.90" y2="496.00" stroke="#444" stroke-width="1.2" />
<line x1="579.90" y1="288.40" x2="579.90" y2="291.90" stroke="#444" stroke-width="1.2" />
<text x="472.60" y="508.60" font-size="12.8" fill="#231f20" text-anchor="middle" font-weight="normal" font-style="normal"  stroke="#231f20" stroke-width="0.22">-25</text>
<text x="493.98" y="508.60" font-size="12.8" fill="#231f20" text-anchor="middle" font-weight="normal" font-style="normal"  stroke="#231f20" stroke-width="0.22">-20</text>
<text x="515.36" y="508.60" font-size="12.8" fill="#231f20" text-anchor="middle" font-weight="normal" font-style="normal"  stroke="#231f20" stroke-width="0.22">-15</text>
<text x="536.74" y="508.60" font-size="12.8" fill="#231f20" text-anchor="middle" font-weight="normal" font-style="normal"  stroke="#231f20" stroke-width="0.22">-10</text>
<text x="558.12" y="508.60" font-size="12.8" fill="#231f20" text-anchor="middle" font-weight="normal" font-style="normal"  stroke="#231f20" stroke-width="0.22">-5</text>
<text x="579.90" y="508.60" font-size="12.8" fill="#231f20" text-anchor="middle" font-weight="normal" font-style="normal"  stroke="#231f20" stroke-width="0.22">0</text>
<text x="525.60" y="528.90" font-size="12.7" fill="#231f20" text-anchor="middle" font-weight="normal" font-style="normal"  stroke="#231f20" stroke-width="0.22">Transmission (dB)</text>
<text x="599.00" y="287.50" font-size="14" fill="#111" text-anchor="start" font-weight="bold" font-style="normal" >h</text>
<line x1="613.60" y1="338.50" x2="772.20" y2="338.50" stroke="#d8d8d8" stroke-width="0.8" stroke-dasharray="1.5,1.5"/>
<line x1="613.60" y1="376.70" x2="772.20" y2="376.70" stroke="#d8d8d8" stroke-width="0.8" stroke-dasharray="1.5,1.5"/>
<line x1="613.60" y1="414.90" x2="772.20" y2="414.90" stroke="#d8d8d8" stroke-width="0.8" stroke-dasharray="1.5,1.5"/>
<line x1="613.60" y1="453.10" x2="772.20" y2="453.10" stroke="#d8d8d8" stroke-width="0.8" stroke-dasharray="1.5,1.5"/>
<line x1="613.60" y1="300.30" x2="772.20" y2="300.30" stroke="#d8d8d8" stroke-width="0.8" stroke-dasharray="1.5,1.5"/>
<line x1="627.70" y1="287.80" x2="627.70" y2="491.50" stroke="#d8d8d8" stroke-width="0.8" stroke-dasharray="1.5,1.5"/>
<line x1="714.60" y1="287.80" x2="714.60" y2="491.50" stroke="#d8d8d8" stroke-width="0.8" stroke-dasharray="1.5,1.5"/>
<rect x="613.60" y="389.10" width="158.60" height="8.20" fill="#aad91e" />
<polyline points="613.6,315.25 756.4,384.5 772.2,388.4" fill="none" stroke="#f0603e" stroke-width="1.8"/>
<polyline points="613.6,466.1 627.7,458.25 756.4,401.8 772.2,398" fill="none" stroke="#2b95bf" stroke-width="1.8"/>
<rect x="723.3" y="304.5" width="18.90" height="60.00" fill="url(#gHigh)"/>
<rect x="742.2" y="304.5" width="19.60" height="60.00" fill="url(#gLow)"/>
<line x1="742.20" y1="304.50" x2="742.20" y2="364.50" stroke="#1a58c8" stroke-width="0.8" />
<line x1="723.30" y1="334.20" x2="761.80" y2="334.20" stroke="#1a58b0" stroke-width="0.7" opacity="0.75"/>
<rect x="731.5" y="328.2" width="4" height="12.7" fill="none" stroke="#152030" stroke-width="0.9"/>
<rect x="748.2" y="328.2" width="7.3" height="12.7" fill="none" stroke="#152030" stroke-width="0.9"/>
<line x1="723.30" y1="304.50" x2="761.80" y2="304.50" stroke="#183a90" stroke-width="1.0" />
<line x1="723.30" y1="364.50" x2="761.80" y2="364.50" stroke="#183a90" stroke-width="1.0" />
<line x1="723.70" y1="304.00" x2="723.70" y2="365.00" stroke="#000" stroke-width="1.8" />
<line x1="761.40" y1="304.00" x2="761.40" y2="365.00" stroke="#000" stroke-width="1.8" />
<rect x="723.3" y="421.1" width="21.20" height="63.00" fill="url(#gLow)"/>
<rect x="744.5" y="421.1" width="20.20" height="63.00" fill="url(#gHigh)"/>
<line x1="744.50" y1="421.10" x2="744.50" y2="484.10" stroke="#1a58c8" stroke-width="0.8" />
<line x1="723.30" y1="453.00" x2="764.70" y2="453.00" stroke="#1a58b0" stroke-width="0.7" opacity="0.75"/>
<rect x="732.3" y="446.3" width="4.3" height="13.1" fill="none" stroke="#152030" stroke-width="0.9"/>
<rect x="750.3" y="446.3" width="7.9" height="13.1" fill="none" stroke="#152030" stroke-width="0.9"/>
<line x1="723.30" y1="421.10" x2="764.70" y2="421.10" stroke="#183a90" stroke-width="1.0" />
<line x1="723.30" y1="484.10" x2="764.70" y2="484.10" stroke="#183a90" stroke-width="1.0" />
<line x1="723.70" y1="420.60" x2="723.70" y2="484.60" stroke="#000" stroke-width="1.8" />
<line x1="764.30" y1="420.60" x2="764.30" y2="484.60" stroke="#000" stroke-width="1.8" />
<line x1="761.5" y1="375.5" x2="770.6" y2="386.2" stroke="#111" stroke-width="1.1"/>
<path d="M770.60,386.20 L765.61,383.88 L769.11,380.90 Z" fill="#111"/>
<line x1="757.3" y1="413.6" x2="770.6" y2="400.2" stroke="#111" stroke-width="1.1"/>
<path d="M770.60,400.20 L768.71,405.37 L765.45,402.13 Z" fill="#111"/>
<rect x="613.6" y="287.8" width="158.60000000000002" height="203.7" fill="none" stroke="#444" stroke-width="1.5"/>
<line x1="609.60" y1="491.30" x2="613.60" y2="491.30" stroke="#444" stroke-width="1.2" />
<line x1="768.70" y1="491.30" x2="772.20" y2="491.30" stroke="#444" stroke-width="1.2" />
<line x1="611.40" y1="472.20" x2="613.60" y2="472.20" stroke="#444" stroke-width="1.2" />
<line x1="770.00" y1="472.20" x2="772.20" y2="472.20" stroke="#444" stroke-width="1.2" />
<line x1="609.60" y1="453.10" x2="613.60" y2="453.10" stroke="#444" stroke-width="1.2" />
<line x1="768.70" y1="453.10" x2="772.20" y2="453.10" stroke="#444" stroke-width="1.2" />
<line x1="611.40" y1="434.00" x2="613.60" y2="434.00" stroke="#444" stroke-width="1.2" />
<line x1="770.00" y1="434.00" x2="772.20" y2="434.00" stroke="#444" stroke-width="1.2" />
<line x1="609.60" y1="414.90" x2="613.60" y2="414.90" stroke="#444" stroke-width="1.2" />
<line x1="768.70" y1="414.90" x2="772.20" y2="414.90" stroke="#444" stroke-width="1.2" />
<line x1="611.40" y1="395.80" x2="613.60" y2="395.80" stroke="#444" stroke-width="1.2" />
<line x1="770.00" y1="395.80" x2="772.20" y2="395.80" stroke="#444" stroke-width="1.2" />
<line x1="609.60" y1="376.70" x2="613.60" y2="376.70" stroke="#444" stroke-width="1.2" />
<line x1="768.70" y1="376.70" x2="772.20" y2="376.70" stroke="#444" stroke-width="1.2" />
<line x1="611.40" y1="357.60" x2="613.60" y2="357.60" stroke="#444" stroke-width="1.2" />
<line x1="770.00" y1="357.60" x2="772.20" y2="357.60" stroke="#444" stroke-width="1.2" />
<line x1="609.60" y1="338.50" x2="613.60" y2="338.50" stroke="#444" stroke-width="1.2" />
<line x1="768.70" y1="338.50" x2="772.20" y2="338.50" stroke="#444" stroke-width="1.2" />
<line x1="611.40" y1="319.40" x2="613.60" y2="319.40" stroke="#444" stroke-width="1.2" />
<line x1="770.00" y1="319.40" x2="772.20" y2="319.40" stroke="#444" stroke-width="1.2" />
<line x1="609.60" y1="300.30" x2="613.60" y2="300.30" stroke="#444" stroke-width="1.2" />
<line x1="768.70" y1="300.30" x2="772.20" y2="300.30" stroke="#444" stroke-width="1.2" />
<line x1="627.70" y1="491.50" x2="627.70" y2="495.50" stroke="#444" stroke-width="1.2" />
<line x1="627.70" y1="287.80" x2="627.70" y2="291.30" stroke="#444" stroke-width="1.2" />
<line x1="671.15" y1="491.50" x2="671.15" y2="493.70" stroke="#444" stroke-width="1.2" />
<line x1="671.15" y1="287.80" x2="671.15" y2="290.00" stroke="#444" stroke-width="1.2" />
<line x1="714.60" y1="491.50" x2="714.60" y2="495.50" stroke="#444" stroke-width="1.2" />
<line x1="714.60" y1="287.80" x2="714.60" y2="291.30" stroke="#444" stroke-width="1.2" />
<line x1="758.05" y1="491.50" x2="758.05" y2="493.70" stroke="#444" stroke-width="1.2" />
<line x1="758.05" y1="287.80" x2="758.05" y2="290.00" stroke="#444" stroke-width="1.2" />
<text x="627.70" y="508.00" font-size="12.5" fill="#231f20" text-anchor="middle" font-weight="normal" font-style="normal"  stroke="#231f20" stroke-width="0.22">0.480</text>
<text x="714.60" y="508.00" font-size="12.5" fill="#231f20" text-anchor="middle" font-weight="normal" font-style="normal"  stroke="#231f20" stroke-width="0.22">0.492</text>
<text x="690.80" y="522.00" font-size="13.5" fill="#231f20" text-anchor="middle"><tspan font-style="italic">k</tspan><tspan font-family="Liberation Serif" font-style="italic">Λ</tspan>/2<tspan font-family="Liberation Serif">π</tspan></text>
<rect x="2.50" y="548.50" width="311.50" height="162.50" fill="#8d8c8e" />
<path d="M89,573 L12.2,569.8 L12.2,576.6 Z" fill="none" stroke="#4c4258" stroke-width="0.85" stroke-linejoin="miter"/>
<path d="M89,572.6 L12.2,569.4" stroke="#4a5a8c" stroke-width="0.6" opacity="0.8"/>
<path d="M89,573.4 L12.2,577.0" stroke="#8a5060" stroke-width="0.6" opacity="0.8"/>
<rect x="15.90" y="570.30" width="8.70" height="5.80" fill="#4a3c3c" />
<path d="M89,573 L220,572.3" fill="none" stroke="#4a5a8c" stroke-width="1.0" transform="translate(-0.5,-0.6)"/>
<path d="M89,573 L220,572.3" fill="none" stroke="#8a5060" stroke-width="1.0" transform="translate(0.5,0.6)"/>
<path d="M89,573 L220,572.3" fill="none" stroke="#4c4258" stroke-width="1.1"/>
<path d="M220,572.3 L293.2,568.2 L293.2,574.8 Z" fill="none" stroke="#4c4258" stroke-width="0.85" stroke-linejoin="miter"/>
<path d="M220,571.9 L293.2,567.8000000000001" stroke="#4a5a8c" stroke-width="0.6" opacity="0.8"/>
<path d="M220,572.6999999999999 L293.2,575.1999999999999" stroke="#8a5060" stroke-width="0.6" opacity="0.8"/>
<rect x="271.50" y="568.70" width="10.50" height="5.60" fill="#4a3c3c" />
<path d="M225,585 L308.4,581.8 L308.4,587.8 Z" fill="none" stroke="#4c4258" stroke-width="0.85" stroke-linejoin="miter"/>
<path d="M225,584.6 L308.4,581.4" stroke="#4a5a8c" stroke-width="0.6" opacity="0.8"/>
<path d="M225,585.4 L308.4,588.1999999999999" stroke="#8a5060" stroke-width="0.6" opacity="0.8"/>
<rect x="297.00" y="582.30" width="10.20" height="5.00" fill="#4a3c3c" />
<path d="M232,584.6 C212,584.6 197.6,588 197.6,612 L197.6,652 C197.6,674 188,680.8 166,681.2 L75,682.2" fill="none" stroke="#4a5a8c" stroke-width="1.0" transform="translate(-0.5,-0.6)"/>
<path d="M232,584.6 C212,584.6 197.6,588 197.6,612 L197.6,652 C197.6,674 188,680.8 166,681.2 L75,682.2" fill="none" stroke="#8a5060" stroke-width="1.0" transform="translate(0.5,0.6)"/>
<path d="M232,584.6 C212,584.6 197.6,588 197.6,612 L197.6,652 C197.6,674 188,680.8 166,681.2 L75,682.2" fill="none" stroke="#4c4258" stroke-width="1.1"/>
<path d="M75,682.2 L12.6,679.0 L12.6,686.0 Z" fill="none" stroke="#4c4258" stroke-width="0.85" stroke-linejoin="miter"/>
<path d="M75,681.8000000000001 L12.6,678.6" stroke="#4a5a8c" stroke-width="0.6" opacity="0.8"/>
<path d="M75,682.6 L12.6,686.4" stroke="#8a5060" stroke-width="0.6" opacity="0.8"/>
<rect x="15.80" y="679.50" width="9.60" height="6.00" fill="#4a3c3c" />
<rect x="152.50" y="627.80" width="40.50" height="36.90" fill="#daa274" />
<rect x="202.00" y="627.80" width="40.60" height="36.90" fill="#daa274" />
<path d="M193,627.8 L196.6,641 L196.6,651 L193,664.7 Z" fill="#c89a7a"/>
<path d="M202,627.8 L198.9,641 L198.9,651 L202,664.7 Z" fill="#c89a7a"/>
<line x1="193.00" y1="627.80" x2="196.60" y2="641.00" stroke="#8a7a80" stroke-width="0.7" />
<line x1="193.00" y1="664.70" x2="196.60" y2="651.00" stroke="#8a7a80" stroke-width="0.7" />
<line x1="202.00" y1="627.80" x2="198.90" y2="641.00" stroke="#8a7a80" stroke-width="0.7" />
<line x1="202.00" y1="664.70" x2="198.90" y2="651.00" stroke="#8a7a80" stroke-width="0.7" />
<path d="M197.6,618 L197.6,652" stroke="#b89070" stroke-width="3.2" opacity="0.7"/>
<path d="M197.6,612 L197.6,656" stroke="#4c4258" stroke-width="1.2"/>
<text x="186.3" y="564.3" font-size="13" fill="#6a4870" text-anchor="middle" font-weight="bold" opacity="0.85">1</text>
<line x1="191.50" y1="555.00" x2="191.50" y2="560.00" stroke="#7a6a80" stroke-width="0.6" />
<text x="8.2" y="561" font-size="13.5" fill="#fff" font-weight="bold">i</text>
<text x="152.00" y="615.80" font-size="14.2" fill="#fff" text-anchor="middle" font-weight="normal" font-style="normal"  stroke="#fff" stroke-width="0.3">TPC</text>
<path d="M166.5,613.5 L191.5,623.2" stroke="#fff" stroke-width="1.05"/>
<path d="M195.2,624.6 L188.6,624.3 L190.4,619.9 Z" fill="#fff"/>
<text x="7.80" y="656.30" font-size="14.3" fill="#fff" text-anchor="start" font-weight="normal" font-style="normal"  stroke="#fff" stroke-width="0.3">Grating coupler</text>
<path d="M36.8,659.8 L19.5,675.2" stroke="#fff" stroke-width="1.05"/>
<path d="M16.6,677.8 L19.0,671.6 L22.3,675.3 Z" fill="#fff"/>
<rect x="268.00" y="694.00" width="38.00" height="9.80" fill="#fff" />
<text x="287.2" y="687.6" font-size="12.3" fill="#fff" text-anchor="middle">100 <tspan font-family="Liberation Serif">μ</tspan>m</text>
<linearGradient id="jbg" x1="0" y1="0" x2="0" y2="1"><stop offset="0" stop-color="#525256"/><stop offset="0.45" stop-color="#56585c"/><stop offset="1" stop-color="#5b6264"/></linearGradient>
<rect x="331.00" y="549.80" width="218.40" height="162.80" fill="url(#jbg)" />
<linearGradient id="jgold" x1="0" y1="0" x2="1" y2="0"><stop offset="0" stop-color="#8a7057"/><stop offset="0.5" stop-color="#876e56"/><stop offset="1" stop-color="#826a54"/></linearGradient>
<linearGradient id="jgold2" x1="0" y1="0" x2="1" y2="0"><stop offset="0" stop-color="#826a54"/><stop offset="1" stop-color="#8a6e56"/></linearGradient>
<path d="M331,585.8 L436.6,585.8 L444.6,624 L444.6,642 L437.8,682.8 L331,682.8 Z" fill="url(#jgold)"/>
<path d="M461.3,585.8 L549.4,585.8 L549.4,682.8 L461.9,682.8 L453.9,642 L453.9,624 Z" fill="url(#jgold2)"/>
<rect x="444.80" y="560.70" width="8.40" height="82.00" fill="#8a6e54" />
<path d="M444.2,642.1 L453.9,642.1 L461.9,682.8 L437.8,682.8 Z" fill="#5d6163"/>
<line x1="437.80" y1="640.00" x2="437.80" y2="682.80" stroke="#756048" stroke-width="0.6" />
<line x1="461.00" y1="640.00" x2="461.00" y2="682.80" stroke="#756048" stroke-width="0.6" />
<g fill="#6a4646" opacity="0.7"><circle cx="401.9" cy="601.3" r="0.35"/><circle cx="347.6" cy="637.9" r="0.55"/><circle cx="378.4" cy="595.2" r="0.7"/><circle cx="347.1" cy="595.6" r="0.7"/><circle cx="344.8" cy="640.7" r="0.45"/><circle cx="468.2" cy="642.4" r="0.35"/><circle cx="542.9" cy="591.4" r="0.45"/><circle cx="394.6" cy="600.7" r="0.35"/><circle cx="479.3" cy="596.8" r="0.45"/><circle cx="412.4" cy="639.0" r="0.35"/><circle cx="499.9" cy="631.2" r="0.7"/><circle cx="410.1" cy="610.6" r="0.45"/><circle cx="483.0" cy="610.2" r="0.55"/><circle cx="489.6" cy="614.4" r="0.35"/><circle cx="357.5" cy="626.7" r="0.55"/><circle cx="364.8" cy="633.5" r="0.35"/><circle cx="539.8" cy="594.4" r="0.55"/><circle cx="405.5" cy="620.3" r="0.7"/><circle cx="513.4" cy="676.7" r="0.7"/><circle cx="482.6" cy="593.2" r="0.55"/><circle cx="471.8" cy="681.3" r="0.7"/><circle cx="393.5" cy="623.7" r="0.55"/><circle cx="336.9" cy="630.9" r="0.45"/><circle cx="464.0" cy="633.9" r="0.45"/><circle cx="497.9" cy="599.3" r="0.45"/><circle cx="417.9" cy="674.1" r="0.7"/><circle cx="349.4" cy="629.7" r="0.55"/><circle cx="522.8" cy="664.8" r="0.55"/><circle cx="484.6" cy="680.7" r="0.7"/><circle cx="538.9" cy="601.3" r="0.45"/><circle cx="364.7" cy="649.6" r="0.35"/><circle cx="388.8" cy="587.4" r="0.7"/><circle cx="400.8" cy="598.9" r="0.35"/><circle cx="430.6" cy="669.7" r="0.7"/><circle cx="418.0" cy="624.4" r="0.7"/><circle cx="469.0" cy="592.9" r="0.35"/><circle cx="544.7" cy="628.9" r="0.35"/><circle cx="405.5" cy="592.0" r="0.35"/><circle cx="537.0" cy="645.3" r="0.35"/><circle cx="520.9" cy="645.3" r="0.45"/><circle cx="469.0" cy="677.8" r="0.55"/><circle cx="434.4" cy="598.0" r="0.7"/><circle cx="546.5" cy="631.3" r="0.7"/><circle cx="399.4" cy="600.7" r="0.55"/><circle cx="491.9" cy="632.5" r="0.45"/><circle cx="537.6" cy="621.4" r="0.35"/><circle cx="495.8" cy="615.3" r="0.35"/><circle cx="482.4" cy="611.8" r="0.55"/><circle cx="528.2" cy="620.8" r="0.45"/><circle cx="403.2" cy="608.2" r="0.45"/><circle cx="506.1" cy="664.7" r="0.45"/><circle cx="375.2" cy="633.8" r="0.35"/><circle cx="545.8" cy="662.1" r="0.7"/><circle cx="388.0" cy="652.8" r="0.55"/><circle cx="428.6" cy="676.0" r="0.55"/><circle cx="538.3" cy="621.6" r="0.45"/><circle cx="354.1" cy="631.7" r="0.55"/><circle cx="376.1" cy="646.3" r="0.35"/><circle cx="435.6" cy="649.0" r="0.35"/><circle cx="512.3" cy="598.4" r="0.7"/><circle cx="501.0" cy="658.3" r="0.7"/><circle cx="524.0" cy="628.2" r="0.55"/><circle cx="350.7" cy="676.9" r="0.7"/><circle cx="432.0" cy="657.6" r="0.35"/><circle cx="488.6" cy="603.2" r="0.45"/><circle cx="338.0" cy="643.1" r="0.7"/><circle cx="506.2" cy="600.9" r="0.7"/><circle cx="474.0" cy="620.3" r="0.45"/><circle cx="336.6" cy="662.9" r="0.35"/><circle cx="425.7" cy="669.8" r="0.45"/><circle cx="338.0" cy="607.2" r="0.45"/><circle cx="497.0" cy="618.0" r="0.7"/><circle cx="512.2" cy="592.8" r="0.55"/><circle cx="525.9" cy="649.9" r="0.7"/><circle cx="510.7" cy="670.4" r="0.45"/><circle cx="336.0" cy="628.8" r="0.45"/><circle cx="463.4" cy="660.7" r="0.45"/><circle cx="369.2" cy="632.0" r="0.35"/><circle cx="501.4" cy="597.1" r="0.35"/><circle cx="385.7" cy="613.3" r="0.35"/><circle cx="496.2" cy="673.7" r="0.7"/><circle cx="402.3" cy="679.5" r="0.45"/><circle cx="481.6" cy="630.0" r="0.7"/><circle cx="532.4" cy="674.7" r="0.45"/><circle cx="513.4" cy="600.0" r="0.35"/><circle cx="416.8" cy="617.0" r="0.45"/><circle cx="424.5" cy="607.2" r="0.55"/><circle cx="501.3" cy="672.2" r="0.45"/><circle cx="534.9" cy="648.1" r="0.55"/><circle cx="362.9" cy="670.9" r="0.7"/><circle cx="379.4" cy="677.5" r="0.7"/><circle cx="523.1" cy="602.5" r="0.45"/><circle cx="366.9" cy="628.0" r="0.7"/><circle cx="405.2" cy="605.6" r="0.55"/><circle cx="351.9" cy="621.8" r="0.55"/><circle cx="335.9" cy="618.5" r="0.55"/><circle cx="544.8" cy="661.9" r="0.35"/><circle cx="350.2" cy="612.8" r="0.45"/><circle cx="390.4" cy="599.3" r="0.7"/><circle cx="515.5" cy="651.2" r="0.55"/><circle cx="419.7" cy="638.0" r="0.7"/><circle cx="483.3" cy="595.5" r="0.35"/><circle cx="504.7" cy="604.4" r="0.35"/><circle cx="390.1" cy="588.6" r="0.35"/><circle cx="505.2" cy="595.0" r="0.45"/><circle cx="346.4" cy="669.0" r="0.7"/><circle cx="334.5" cy="681.5" r="0.7"/><circle cx="532.2" cy="612.4" r="0.45"/><circle cx="341.3" cy="654.4" r="0.35"/><circle cx="541.3" cy="611.9" r="0.45"/><circle cx="375.6" cy="616.6" r="0.55"/><circle cx="428.3" cy="650.9" r="0.55"/><circle cx="407.0" cy="588.7" r="0.55"/><circle cx="340.0" cy="588.8" r="0.45"/><circle cx="428.6" cy="649.5" r="0.7"/><circle cx="473.8" cy="638.9" r="0.7"/><circle cx="541.6" cy="616.2" r="0.45"/><circle cx="544.2" cy="619.6" r="0.45"/><circle cx="419.4" cy="620.0" r="0.35"/><circle cx="512.8" cy="588.4" r="0.55"/><circle cx="425.0" cy="592.3" r="0.7"/><circle cx="520.0" cy="650.7" r="0.55"/><circle cx="341.8" cy="604.6" r="0.55"/><circle cx="428.3" cy="612.0" r="0.55"/><circle cx="542.1" cy="639.0" r="0.45"/><circle cx="339.4" cy="670.8" r="0.45"/><circle cx="409.0" cy="587.1" r="0.7"/><circle cx="350.1" cy="613.5" r="0.45"/><circle cx="385.6" cy="660.7" r="0.35"/><circle cx="389.1" cy="595.5" r="0.7"/><circle cx="396.7" cy="646.8" r="0.35"/><circle cx="494.1" cy="649.5" r="0.7"/><circle cx="497.1" cy="655.5" r="0.7"/><circle cx="364.3" cy="655.8" r="0.45"/><circle cx="341.5" cy="666.4" r="0.7"/><circle cx="490.5" cy="664.2" r="0.45"/><circle cx="528.5" cy="658.5" r="0.35"/><circle cx="510.5" cy="642.5" r="0.45"/><circle cx="350.4" cy="591.0" r="0.55"/><circle cx="539.3" cy="622.8" r="0.7"/><circle cx="467.3" cy="651.7" r="0.7"/><circle cx="389.0" cy="630.4" r="0.35"/><circle cx="493.6" cy="634.8" r="0.35"/><circle cx="474.4" cy="593.3" r="0.7"/><circle cx="386.5" cy="594.1" r="0.55"/><circle cx="382.7" cy="658.9" r="0.45"/><circle cx="491.8" cy="679.7" r="0.7"/><circle cx="514.6" cy="594.3" r="0.55"/><circle cx="497.7" cy="645.6" r="0.45"/><circle cx="348.7" cy="601.0" r="0.55"/><circle cx="472.7" cy="652.8" r="0.45"/><circle cx="334.7" cy="592.8" r="0.55"/><circle cx="542.1" cy="596.5" r="0.45"/><circle cx="478.0" cy="614.6" r="0.55"/><circle cx="432.4" cy="631.3" r="0.35"/><circle cx="546.6" cy="639.2" r="0.55"/><circle cx="543.3" cy="675.9" r="0.35"/><circle cx="394.6" cy="594.3" r="0.7"/><circle cx="546.7" cy="623.8" r="0.45"/><circle cx="348.1" cy="595.6" r="0.55"/><circle cx="537.8" cy="599.6" r="0.55"/><circle cx="523.6" cy="653.8" r="0.45"/><circle cx="417.1" cy="602.1" r="0.7"/><circle cx="479.2" cy="625.5" r="0.45"/><circle cx="421.9" cy="622.7" r="0.35"/><circle cx="513.5" cy="587.2" r="0.55"/><circle cx="513.2" cy="598.4" r="0.45"/><circle cx="486.0" cy="672.6" r="0.55"/><circle cx="386.7" cy="593.2" r="0.7"/><circle cx="547.7" cy="643.0" r="0.55"/><circle cx="531.9" cy="658.8" r="0.35"/><circle cx="392.6" cy="591.9" r="0.55"/><circle cx="469.2" cy="601.1" r="0.55"/><circle cx="426.2" cy="617.0" r="0.55"/><circle cx="501.6" cy="627.6" r="0.35"/><circle cx="507.4" cy="646.9" r="0.45"/><circle cx="487.4" cy="591.7" r="0.7"/><circle cx="429.4" cy="658.5" r="0.55"/><circle cx="421.6" cy="613.8" r="0.55"/><circle cx="491.6" cy="679.7" r="0.55"/><circle cx="419.7" cy="609.7" r="0.7"/><circle cx="368.1" cy="602.4" r="0.45"/><circle cx="403.9" cy="659.1" r="0.7"/><circle cx="362.2" cy="605.3" r="0.35"/><circle cx="369.7" cy="639.8" r="0.55"/><circle cx="383.7" cy="611.5" r="0.45"/><circle cx="523.6" cy="658.2" r="0.7"/><circle cx="414.7" cy="657.9" r="0.45"/><circle cx="413.4" cy="619.1" r="0.35"/><circle cx="409.8" cy="652.2" r="0.45"/><circle cx="352.0" cy="672.2" r="0.7"/><circle cx="418.3" cy="629.4" r="0.55"/><circle cx="515.3" cy="669.9" r="0.35"/><circle cx="359.5" cy="627.4" r="0.7"/><circle cx="541.1" cy="633.5" r="0.35"/><circle cx="416.6" cy="675.0" r="0.7"/><circle cx="542.0" cy="610.6" r="0.35"/><circle cx="380.3" cy="601.4" r="0.35"/><circle cx="535.4" cy="655.6" r="0.7"/><circle cx="350.4" cy="660.8" r="0.35"/><circle cx="501.0" cy="609.1" r="0.35"/><circle cx="471.4" cy="615.9" r="0.45"/><circle cx="467.3" cy="637.2" r="0.7"/><circle cx="482.9" cy="597.7" r="0.35"/><circle cx="396.9" cy="676.6" r="0.45"/><circle cx="415.8" cy="608.2" r="0.35"/><circle cx="334.3" cy="615.6" r="0.7"/><circle cx="392.2" cy="617.1" r="0.45"/><circle cx="434.7" cy="609.3" r="0.45"/><circle cx="338.3" cy="626.1" r="0.55"/><circle cx="343.9" cy="605.4" r="0.7"/><circle cx="349.5" cy="608.6" r="0.7"/><circle cx="531.8" cy="608.5" r="0.35"/><circle cx="482.3" cy="655.2" r="0.55"/><circle cx="479.4" cy="605.8" r="0.55"/><circle cx="491.7" cy="635.0" r="0.45"/><circle cx="497.4" cy="605.4" r="0.7"/><circle cx="379.8" cy="659.2" r="0.55"/><circle cx="355.5" cy="646.2" r="0.45"/><circle cx="525.6" cy="633.1" r="0.35"/><circle cx="536.9" cy="600.9" r="0.7"/><circle cx="343.7" cy="589.2" r="0.45"/><circle cx="421.7" cy="654.4" r="0.45"/><circle cx="417.0" cy="672.3" r="0.55"/><circle cx="490.3" cy="681.8" r="0.45"/><circle cx="403.1" cy="604.6" r="0.7"/><circle cx="338.9" cy="650.1" r="0.7"/><circle cx="513.3" cy="680.6" r="0.7"/><circle cx="368.6" cy="587.3" r="0.55"/><circle cx="349.4" cy="626.9" r="0.35"/><circle cx="414.1" cy="660.0" r="0.55"/><circle cx="509.6" cy="628.1" r="0.35"/><circle cx="484.3" cy="605.6" r="0.7"/><circle cx="373.7" cy="621.6" r="0.7"/><circle cx="338.5" cy="626.0" r="0.7"/><circle cx="340.8" cy="590.3" r="0.35"/><circle cx="505.5" cy="592.9" r="0.45"/><circle cx="493.4" cy="672.4" r="0.55"/><circle cx="410.4" cy="618.8" r="0.35"/><circle cx="388.6" cy="655.1" r="0.55"/><circle cx="531.6" cy="615.3" r="0.35"/><circle cx="337.2" cy="609.2" r="0.7"/><circle cx="486.6" cy="631.2" r="0.7"/><circle cx="502.6" cy="673.8" r="0.7"/><circle cx="360.7" cy="634.2" r="0.35"/><circle cx="505.4" cy="657.2" r="0.45"/><circle cx="463.2" cy="618.1" r="0.55"/><circle cx="431.5" cy="661.5" r="0.35"/><circle cx="366.5" cy="625.7" r="0.35"/><circle cx="366.7" cy="627.5" r="0.35"/><circle cx="545.4" cy="612.2" r="0.35"/><circle cx="377.0" cy="627.0" r="0.7"/><circle cx="369.4" cy="599.6" r="0.7"/><circle cx="466.0" cy="651.0" r="0.35"/><circle cx="500.4" cy="614.9" r="0.55"/><circle cx="491.4" cy="605.9" r="0.45"/><circle cx="372.1" cy="609.4" r="0.55"/><circle cx="523.0" cy="641.9" r="0.55"/><circle cx="346.0" cy="610.9" r="0.45"/><circle cx="506.6" cy="649.1" r="0.35"/><circle cx="354.1" cy="632.1" r="0.45"/><circle cx="513.6" cy="673.9" r="0.35"/><circle cx="521.4" cy="609.1" r="0.35"/><circle cx="372.9" cy="679.4" r="0.45"/><circle cx="532.9" cy="622.4" r="0.45"/><circle cx="429.0" cy="611.7" r="0.35"/><circle cx="354.8" cy="643.6" r="0.55"/><circle cx="379.0" cy="622.0" r="0.45"/><circle cx="341.5" cy="682.0" r="0.35"/><circle cx="375.9" cy="588.1" r="0.55"/><circle cx="420.3" cy="622.3" r="0.55"/><circle cx="348.8" cy="590.0" r="0.7"/><circle cx="353.9" cy="624.6" r="0.45"/><circle cx="470.1" cy="595.7" r="0.45"/><circle cx="417.9" cy="612.8" r="0.55"/><circle cx="476.2" cy="626.7" r="0.35"/><circle cx="399.5" cy="640.8" r="0.55"/><circle cx="421.4" cy="588.7" r="0.55"/><circle cx="471.2" cy="624.1" r="0.7"/><circle cx="376.0" cy="587.6" r="0.45"/><circle cx="423.5" cy="664.9" r="0.7"/><circle cx="499.0" cy="599.3" r="0.35"/><circle cx="528.5" cy="595.5" r="0.55"/><circle cx="491.2" cy="603.3" r="0.55"/><circle cx="393.2" cy="636.5" r="0.35"/><circle cx="355.5" cy="633.6" r="0.45"/><circle cx="397.1" cy="666.5" r="0.35"/><circle cx="542.7" cy="632.9" r="0.35"/><circle cx="463.3" cy="647.5" r="0.35"/><circle cx="527.3" cy="645.9" r="0.45"/><circle cx="470.3" cy="668.4" r="0.7"/><circle cx="464.8" cy="605.6" r="0.7"/><circle cx="371.5" cy="607.7" r="0.7"/><circle cx="534.7" cy="601.9" r="0.55"/><circle cx="358.6" cy="610.5" r="0.45"/><circle cx="340.9" cy="640.4" r="0.35"/><circle cx="476.3" cy="617.8" r="0.7"/><circle cx="467.4" cy="616.1" r="0.7"/><circle cx="398.6" cy="610.7" r="0.7"/><circle cx="474.3" cy="629.4" r="0.7"/><circle cx="370.6" cy="587.3" r="0.7"/><circle cx="432.5" cy="629.4" r="0.7"/><circle cx="512.7" cy="664.0" r="0.7"/><circle cx="355.1" cy="599.2" r="0.7"/><circle cx="410.9" cy="663.2" r="0.35"/><circle cx="340.8" cy="599.4" r="0.55"/><circle cx="500.0" cy="635.6" r="0.35"/><circle cx="494.4" cy="672.0" r="0.45"/><circle cx="337.6" cy="593.3" r="0.35"/><circle cx="373.8" cy="680.3" r="0.7"/><circle cx="394.2" cy="664.0" r="0.45"/><circle cx="480.2" cy="655.5" r="0.45"/><circle cx="346.2" cy="620.3" r="0.55"/><circle cx="366.3" cy="672.2" r="0.55"/><circle cx="527.5" cy="630.4" r="0.55"/><circle cx="377.0" cy="612.0" r="0.45"/><circle cx="400.9" cy="590.5" r="0.45"/><circle cx="419.1" cy="647.5" r="0.55"/><circle cx="478.8" cy="672.1" r="0.45"/><circle cx="503.1" cy="612.1" r="0.35"/><circle cx="469.4" cy="621.2" r="0.7"/><circle cx="522.6" cy="596.9" r="0.7"/><circle cx="491.4" cy="622.3" r="0.7"/><circle cx="545.9" cy="641.8" r="0.55"/><circle cx="403.5" cy="594.7" r="0.45"/><circle cx="370.2" cy="657.6" r="0.35"/><circle cx="396.0" cy="636.0" r="0.55"/><circle cx="470.1" cy="680.5" r="0.55"/><circle cx="490.3" cy="658.0" r="0.45"/><circle cx="364.3" cy="645.5" r="0.7"/><circle cx="422.2" cy="621.6" r="0.35"/><circle cx="360.5" cy="608.6" r="0.35"/><circle cx="336.8" cy="587.2" r="0.55"/><circle cx="397.6" cy="636.7" r="0.45"/><circle cx="421.3" cy="615.6" r="0.45"/><circle cx="376.1" cy="646.3" r="0.7"/><circle cx="366.3" cy="588.3" r="0.45"/><circle cx="484.8" cy="629.8" r="0.35"/><circle cx="469.9" cy="669.8" r="0.55"/><circle cx="418.8" cy="612.1" r="0.35"/><circle cx="344.1" cy="665.0" r="0.55"/><circle cx="332.1" cy="592.8" r="0.35"/><circle cx="419.7" cy="609.6" r="0.35"/><circle cx="528.9" cy="597.0" r="0.45"/><circle cx="362.7" cy="606.0" r="0.7"/><circle cx="507.7" cy="603.6" r="0.55"/><circle cx="345.8" cy="646.5" r="0.7"/><circle cx="486.5" cy="587.6" r="0.7"/><circle cx="493.0" cy="631.2" r="0.7"/><circle cx="369.9" cy="681.7" r="0.55"/><circle cx="382.2" cy="590.7" r="0.55"/><circle cx="524.5" cy="674.9" r="0.55"/><circle cx="485.7" cy="612.3" r="0.7"/><circle cx="480.1" cy="674.1" r="0.55"/><circle cx="395.9" cy="675.2" r="0.45"/><circle cx="350.5" cy="635.2" r="0.45"/><circle cx="388.2" cy="609.4" r="0.45"/><circle cx="536.1" cy="657.9" r="0.55"/><circle cx="373.5" cy="623.9" r="0.45"/><circle cx="414.0" cy="667.9" r="0.7"/><circle cx="434.0" cy="637.4" r="0.35"/><circle cx="517.2" cy="628.5" r="0.45"/><circle cx="377.8" cy="646.1" r="0.35"/><circle cx="339.1" cy="597.6" r="0.45"/><circle cx="406.5" cy="600.5" r="0.35"/><circle cx="338.7" cy="600.1" r="0.35"/><circle cx="482.6" cy="657.0" r="0.35"/><circle cx="517.0" cy="659.4" r="0.45"/></g>
<rect x="447.00" y="549.80" width="3.60" height="92.50" fill="#3f3650" />
<line x1="448.80" y1="549.80" x2="448.80" y2="642.00" stroke="#5a4e66" stroke-width="0.6" />
<path d="M447.6,642 C447.6,672 440,692 412.5,712.6" fill="none" stroke="#433856" stroke-width="1.4"/>
<path d="M450.2,642 C450.2,674 443,695 417,712.6" fill="none" stroke="#433856" stroke-width="1.4"/>
<path d="M478,712.6 C486,703 500,696 524,695.6 L549.4,695.3" fill="none" stroke="#433856" stroke-width="1.4"/>
<path d="M482.5,712.6 C490,705 503,698.8 524,698.5 L549.4,698.2" fill="none" stroke="#433856" stroke-width="1.4"/>
<text x="337" y="564" font-size="14" fill="#fff" font-weight="bold">j</text>
<text x="377.90" y="639.60" font-size="14.1" fill="#fff" text-anchor="middle" font-weight="normal" font-style="normal"  stroke="#fff" stroke-width="0.3">Ground</text>
<text x="507.80" y="636.70" font-size="14.1" fill="#fff" text-anchor="middle" font-weight="normal" font-style="normal"  stroke="#fff" stroke-width="0.3">Signal</text>
<rect x="522.00" y="556.60" width="20.80" height="7.40" fill="#fff" />
<text x="528.8" y="578" font-size="12.5" fill="#fff" text-anchor="middle">20 <tspan font-family="Liberation Serif">μ</tspan>m</text>
<clipPath id="clipk"><rect x="562.5" y="549.4" width="236.0" height="163.20000000000005"/></clipPath>
<g clip-path="url(#clipk)">
<rect x="562.50" y="549.40" width="236.00" height="163.20" fill="#050505" />
<linearGradient id="kg1" gradientUnits="userSpaceOnUse" x1="680.00" y1="493.20" x2="725.77" y2="553.42"><stop offset="0" stop-color="#808080"/><stop offset="0.2" stop-color="#7c7c7c"/><stop offset="0.3" stop-color="#747474"/><stop offset="0.8" stop-color="#747474"/><stop offset="0.88" stop-color="#909090"/><stop offset="0.935" stop-color="#d0d0d0"/><stop offset="0.965" stop-color="#f0f0f0"/><stop offset="0.985" stop-color="#c0c0c0"/><stop offset="1" stop-color="#505050"/></linearGradient>
<path d="M552.5,590.10 L808.5,395.54 L808.5,489.54 L552.5,684.10 Z" fill="url(#kg1)" filter="url(#semnoise)"/>
<path d="M562.5,549.4 L623.5,549.4 L562.5,599.2 Z" fill="#030303"/>
<path d="M623.5,549.4 L562.5,599.2" stroke="#a8a8a8" stroke-width="4" opacity="0.6"/>
<path d="M623.5,549.4 L562.5,599.2" stroke="#e0e0e0" stroke-width="1.6"/>
<linearGradient id="kg2" gradientUnits="userSpaceOnUse" x1="680.00" y1="586.70" x2="690.12" y2="600.01"><stop offset="0" stop-color="#2e2e2e"/><stop offset="0.5" stop-color="#363636"/><stop offset="1" stop-color="#444444"/></linearGradient>
<path d="M552.5,683.60 L808.5,489.04 L808.5,510.04 L552.5,704.60 Z" fill="url(#kg2)" />
<linearGradient id="kg3" gradientUnits="userSpaceOnUse" x1="680.00" y1="607.20" x2="711.80" y2="649.04"><stop offset="0" stop-color="#6c6c6c"/><stop offset="0.07" stop-color="#747474"/><stop offset="0.12" stop-color="#5e5e5e"/><stop offset="0.35" stop-color="#5a5a5a"/><stop offset="0.56" stop-color="#5e5e5e"/><stop offset="0.58" stop-color="#4a4a4a"/><stop offset="0.62" stop-color="#5a5a5a"/><stop offset="0.74" stop-color="#525252"/><stop offset="0.8" stop-color="#3c3c3c"/><stop offset="1" stop-color="#383838"/></linearGradient>
<path d="M552.5,704.60 L808.5,510.04 L808.5,574.54 L552.5,769.10 Z" fill="url(#kg3)" />
<linearGradient id="kg4" gradientUnits="userSpaceOnUse" x1="680.00" y1="671.20" x2="718.06" y2="721.28"><stop offset="0" stop-color="#9a9a9a"/><stop offset="0.05" stop-color="#7e7e7e"/><stop offset="0.9" stop-color="#7e7e7e"/><stop offset="0.95" stop-color="#a0a0a0"/><stop offset="0.975" stop-color="#e8e8e8"/><stop offset="1" stop-color="#606060"/></linearGradient>
<path d="M552.5,768.60 L808.5,574.04 L808.5,651.54 L552.5,846.10 Z" fill="url(#kg4)" filter="url(#semnoise)"/>
<linearGradient id="kg5" gradientUnits="userSpaceOnUse" x1="680.00" y1="748.20" x2="716.13" y2="795.74"><stop offset="0" stop-color="#2c2c2c"/><stop offset="1" stop-color="#404040"/></linearGradient>
<path d="M552.5,845.60 L808.5,651.04 L808.5,785.54 L552.5,980.10 Z" fill="url(#kg5)" />
<path d="M537.75,730.20 L543.95,739.70 M544.80,724.85 L551.00,734.35 M551.85,719.49 L558.05,728.99 M558.90,714.13 L565.10,723.63 M565.95,708.77 L572.15,718.27 M573.00,703.41 L579.20,712.91 M580.05,698.06 L586.25,707.56 M587.10,692.70 L593.30,702.20 M594.15,687.34 L600.35,696.84 M601.20,681.98 L607.40,691.48 M608.25,676.62 L614.45,686.12 M615.30,671.27 L621.50,680.77 M622.35,665.91 L628.55,675.41 M629.40,660.55 L635.60,670.05 M636.45,655.19 L642.65,664.69 M643.50,649.83 L649.70,659.33 M650.55,644.48 L656.75,653.98 M657.60,639.12 L663.80,648.62 M664.65,633.76 L670.85,643.26 M671.70,628.40 L677.90,637.90 M678.75,623.04 L684.95,632.54 M685.80,617.69 L692.00,627.19 M692.85,612.33 L699.05,621.83 M699.90,606.97 L706.10,616.47 M706.95,601.61 L713.15,611.11 M714.00,596.25 L720.20,605.75 M721.05,590.90 L727.25,600.40 M728.10,585.54 L734.30,595.04 M735.15,580.18 L741.35,589.68 M742.20,574.82 L748.40,584.32 M749.25,569.46 L755.45,578.96 M756.30,564.11 L762.50,573.61 M763.35,558.75 L769.55,568.25 M770.40,553.39 L776.60,562.89 M777.45,548.03 L783.65,557.53 M784.50,542.67 L790.70,552.17 M791.55,537.32 L797.75,546.82 M798.60,531.96 L804.80,541.46 M805.65,526.60 L811.85,536.10" stroke="#2a2a2a" stroke-width="1.0" fill="none"/>
<line x1="663.2" y1="615.3" x2="689.4" y2="651" stroke="#f0f0f0" stroke-width="1.1" stroke-dasharray="1.2,1.3"/>
</g>
<text x="567" y="563.5" font-size="14" fill="#fff" font-weight="bold">k</text>
<text x="630.00" y="596.60" font-size="14" fill="#fff" text-anchor="middle" font-weight="normal" font-style="normal"  stroke="#fff" stroke-width="0.3">Ground</text>
<text x="720.10" y="646.20" font-size="14" fill="#fff" text-anchor="middle" font-weight="normal" font-style="normal"  stroke="#fff" stroke-width="0.3">Interface</text>
<text x="731.20" y="676.70" font-size="14" fill="#fff" text-anchor="middle" font-weight="normal" font-style="normal"  stroke="#fff" stroke-width="0.3">Signal</text>
<text x="595.30" y="704.20" font-size="14" fill="#fff" text-anchor="middle" font-weight="normal" font-style="normal"  stroke="#fff" stroke-width="0.3">SiN</text>
<text x="644.00" y="695.00" font-size="14" fill="#fff" text-anchor="middle" font-weight="normal" font-style="normal"  stroke="#fff" stroke-width="0.3">LN</text>
<rect x="769.30" y="701.80" width="21.70" height="7.50" fill="#fff" />
<text x="780.1" y="696.3" font-size="12.5" fill="#fff" text-anchor="middle">1 <tspan font-family="Liberation Serif">μ</tspan>m</text>
</svg></body></html>
